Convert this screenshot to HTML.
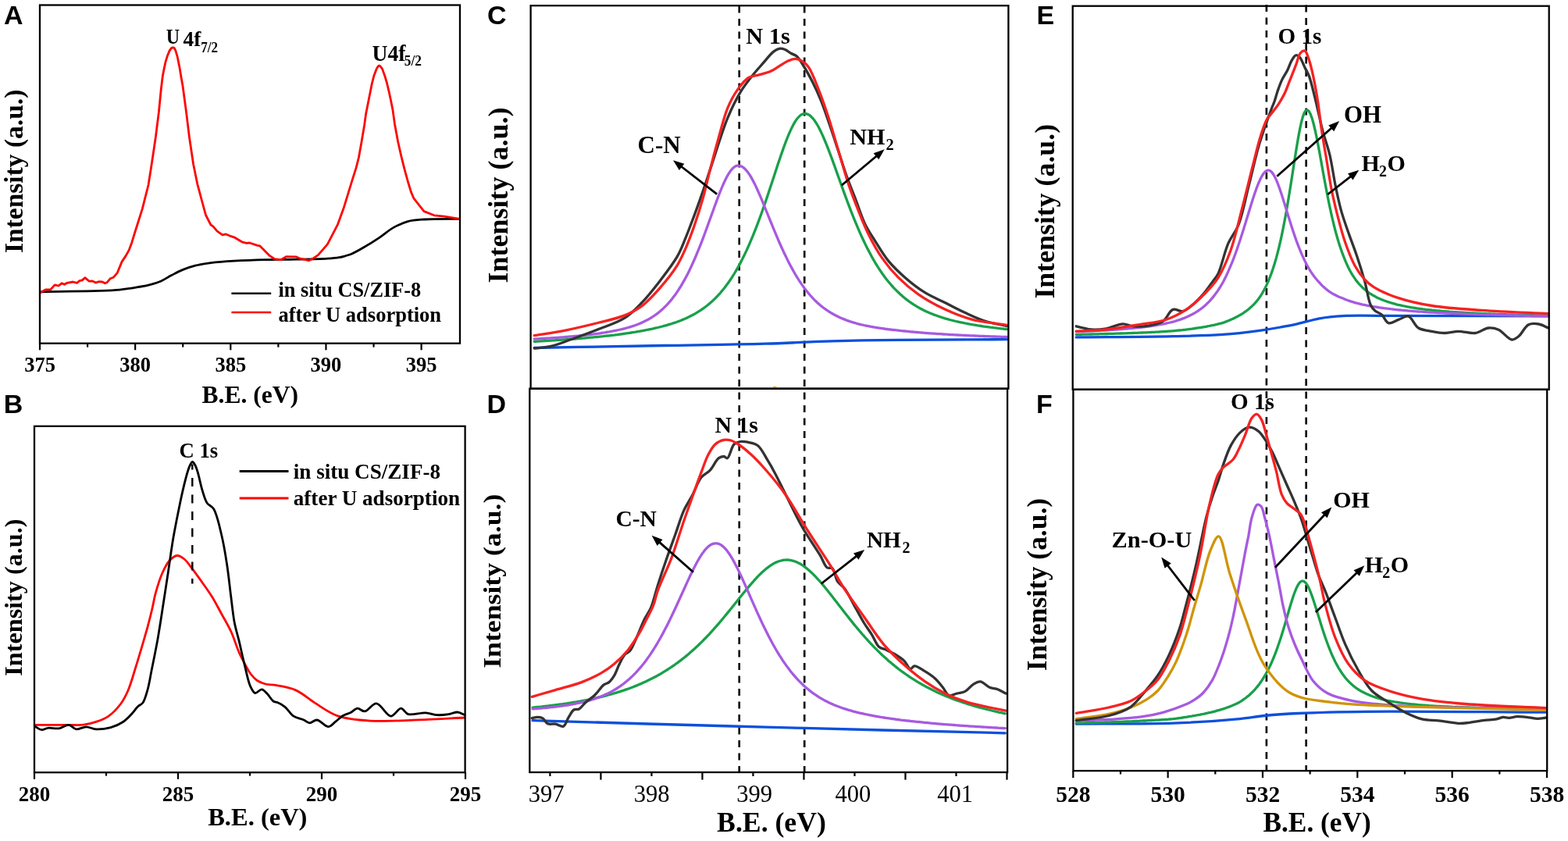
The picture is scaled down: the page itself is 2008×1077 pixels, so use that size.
<!DOCTYPE html>
<html><head><meta charset="utf-8"><title>XPS spectra</title>
<style>html,body{margin:0;padding:0;background:#fff;}svg{display:block;}</style></head>
<body>
<svg width="2008" height="1077" viewBox="0 0 2008 1077">
<rect width="2008" height="1077" fill="#fff"/>
<text x="4.9" y="31" font-family="'Liberation Sans',Arial,sans-serif" font-size="34" font-weight="bold" text-anchor="start" >A</text>
<text x="4.8" y="528.8" font-family="'Liberation Sans',Arial,sans-serif" font-size="34" font-weight="bold" text-anchor="start" >B</text>
<text x="624.1" y="31.2" font-family="'Liberation Sans',Arial,sans-serif" font-size="34" font-weight="bold" text-anchor="start" >C</text>
<text x="623.5" y="528.8" font-family="'Liberation Sans',Arial,sans-serif" font-size="34" font-weight="bold" text-anchor="start" >D</text>
<text x="1327.4" y="30.9" font-family="'Liberation Sans',Arial,sans-serif" font-size="34" font-weight="bold" text-anchor="start" >E</text>
<text x="1327.1" y="529" font-family="'Liberation Sans',Arial,sans-serif" font-size="34" font-weight="bold" text-anchor="start" >F</text>
<path d="M51.7,373.8C85.5,372.9 129.9,373.1 153.0,371.1C165.1,370.0 173.1,368.3 180.5,367.0C185.5,366.1 188.8,365.4 193.0,364.3C197.2,363.2 201.5,362.0 205.7,360.2C210.3,358.2 214.9,355.0 219.6,352.6C224.2,350.2 228.7,347.6 233.6,345.6C238.8,343.5 244.2,341.7 250.0,340.2C256.3,338.6 262.6,337.6 269.9,336.7C278.8,335.5 289.1,334.8 299.8,334.2C312.1,333.5 326.3,333.0 339.6,332.7C352.9,332.4 366.2,332.5 379.5,332.2C392.8,332.0 409.2,331.8 419.3,331.2C425.5,330.8 430.1,330.4 434.3,329.7C437.3,329.2 439.4,328.5 442.0,327.8C444.7,327.0 447.0,326.5 450.0,325.2C454.3,323.4 459.7,320.4 465.0,317.3C471.4,313.6 479.2,308.7 485.8,304.3C492.1,300.1 497.7,294.9 504.0,291.4C509.9,288.1 515.8,285.3 522.2,283.6C528.8,281.8 534.7,281.6 543.0,281.0C555.2,280.1 573.4,280.5 588.6,280.3" fill="none" stroke="#000" stroke-width="2.8" stroke-linejoin="round" stroke-linecap="round"/>
<path d="M51.7,374.8 58.4,371.0 65.0,370.6 70.1,364.8 75.1,366.0 79.2,362.7 82.6,364.3 85.9,362.3 93.5,361.0 98.5,362.3 101.8,359.7 105.2,358.9 108.9,355.6 114.3,360.2 118.5,360.0 122.7,362.0 126.9,360.6 131.1,361.0 134.4,362.8 136.9,361.8 141.1,356.8 145.3,355.2 150.3,349.3 156.1,335.1 161.1,327.6 165.3,320.1 168.7,310.9 172.0,300.0 182.3,267.3 190.0,237.0 194.2,210.3 199.2,176.8 203.4,143.4 206.3,114.0 208.2,98.3 210.0,88.6 211.9,79.7 214.1,72.3 217.1,64.9 219.5,61.6 221.5,60.8 223.3,61.6 224.9,64.9 227.1,72.3 228.6,79.7 230.1,87.1 231.9,98.3 234.0,110.0 238.5,143.4 242.6,176.8 247.6,210.3 252.7,235.3 258.5,257.0 263.5,275.4 270.0,288.0 272.9,289.9 277.9,295.9 284.9,300.8 288.8,299.8 293.8,301.8 299.8,303.8 309.8,309.8 315.7,311.3 319.7,311.0 329.7,314.3 332.7,314.8 339.6,321.8 345.6,327.7 351.6,331.7 359.6,332.7 366.5,328.7 379.5,328.9 384.5,331.2 395.4,333.7 401.4,330.7 407.4,326.7 419.3,312.8 432.3,287.9 440.0,266.8 445.6,248.7 451.1,230.6 456.0,215.2 459.5,201.3 463.0,181.8 466.5,160.9 468.7,145.3 471.2,132.7 473.7,120.2 476.2,107.6 478.7,97.6 482.1,88.4 484.0,85.2 485.6,84.0 487.4,85.2 489.6,88.4 492.9,97.6 495.4,106.0 498.0,116.8 500.5,128.5 503.0,141.1 505.5,159.0 509.7,181.8 513.8,199.9 518.0,216.6 522.2,232.0 526.4,245.9 530.0,254.2 543.0,270.6 556.0,275.8 569.0,277.1 588.6,280.4" fill="none" stroke="#ff0000" stroke-width="2.8" stroke-linejoin="round" stroke-linecap="round"/>
<rect x="51" y="6.5" width="538" height="433.2" fill="none" stroke="#000" stroke-width="2.3"/>
<line x1="51.0" y1="439.7" x2="51.0" y2="448.3" stroke="#000" stroke-width="2.2"/>
<line x1="112.075" y1="439.7" x2="112.075" y2="444.6" stroke="#000" stroke-width="2.2"/>
<line x1="173.15" y1="439.7" x2="173.15" y2="448.3" stroke="#000" stroke-width="2.2"/>
<line x1="234.225" y1="439.7" x2="234.225" y2="444.6" stroke="#000" stroke-width="2.2"/>
<line x1="295.3" y1="439.7" x2="295.3" y2="448.3" stroke="#000" stroke-width="2.2"/>
<line x1="356.375" y1="439.7" x2="356.375" y2="444.6" stroke="#000" stroke-width="2.2"/>
<line x1="417.45" y1="439.7" x2="417.45" y2="448.3" stroke="#000" stroke-width="2.2"/>
<line x1="478.525" y1="439.7" x2="478.525" y2="444.6" stroke="#000" stroke-width="2.2"/>
<line x1="539.6" y1="439.7" x2="539.6" y2="448.3" stroke="#000" stroke-width="2.2"/>
<text x="51.0" y="475.6" font-family="'Liberation Serif','Times New Roman',serif" font-size="26.5" font-weight="bold" text-anchor="middle" >375</text>
<text x="173.2" y="475.6" font-family="'Liberation Serif','Times New Roman',serif" font-size="26.5" font-weight="bold" text-anchor="middle" >380</text>
<text x="295.3" y="475.6" font-family="'Liberation Serif','Times New Roman',serif" font-size="26.5" font-weight="bold" text-anchor="middle" >385</text>
<text x="417.4" y="475.6" font-family="'Liberation Serif','Times New Roman',serif" font-size="26.5" font-weight="bold" text-anchor="middle" >390</text>
<text x="539.6" y="475.6" font-family="'Liberation Serif','Times New Roman',serif" font-size="26.5" font-weight="bold" text-anchor="middle" >395</text>
<text x="320.3" y="516" font-family="'Liberation Serif','Times New Roman',serif" font-size="31.5" font-weight="bold" text-anchor="middle" >B.E. (eV)</text>
<text transform="translate(29.2,324) rotate(-90) scale(1.0,1)" font-family="'Liberation Serif','Times New Roman',serif" font-size="33.5" font-weight="bold">Intensity (a.u.)</text>
<line x1="296.4" y1="375.7" x2="347.2" y2="375.7" stroke="#000" stroke-width="2.4"/>
<line x1="296.4" y1="400" x2="347.2" y2="400" stroke="#ff0000" stroke-width="2.4"/>
<text x="356.5" y="379.6" font-family="'Liberation Serif','Times New Roman',serif" font-size="26.3" font-weight="bold" text-anchor="start" >in situ CS/ZIF-8</text>
<text x="356.5" y="412" font-family="'Liberation Serif','Times New Roman',serif" font-size="26.5" font-weight="bold" text-anchor="start" >after U adsorption</text>
<text x="212.8" y="55.5" font-family="'Liberation Serif','Times New Roman',serif" font-size="28" font-weight="bold" text-anchor="start"  textLength="17.3" lengthAdjust="spacingAndGlyphs">U</text>
<text x="234.6" y="58.8" font-family="'Liberation Serif','Times New Roman',serif" font-size="27.3" font-weight="bold" text-anchor="start" >4f</text>
<text x="257.2" y="66.6" font-family="'Liberation Serif','Times New Roman',serif" font-size="19.5" font-weight="bold" text-anchor="start"  textLength="21.8" lengthAdjust="spacingAndGlyphs">7/2</text>
<text x="476.6" y="77.8" font-family="'Liberation Serif','Times New Roman',serif" font-size="28.8" font-weight="bold" text-anchor="start"  textLength="42.9" lengthAdjust="spacingAndGlyphs">U4f</text>
<text x="517.8" y="84.3" font-family="'Liberation Serif','Times New Roman',serif" font-size="18.5" font-weight="bold" text-anchor="start"  textLength="22.1" lengthAdjust="spacingAndGlyphs">5/2</text>
<path d="M46.2,928.3C59.3,928.3 74.3,928.3 85.4,928.3C93.7,928.3 100.5,929.0 107.1,928.2C112.8,927.5 117.7,926.2 122.9,924.4C128.3,922.6 133.7,920.7 138.7,917.3C144.3,913.4 150.2,907.2 154.5,901.5C158.5,896.1 161.1,890.8 164.0,884.2C167.6,876.0 170.3,865.5 173.4,855.8C176.6,845.6 180.1,833.8 182.9,824.2C185.2,816.2 187.2,809.5 189.2,802.1C191.2,794.7 193.1,787.2 194.8,780.0C196.4,773.3 197.1,767.5 199.0,760.5C201.3,752.2 204.5,741.4 207.9,733.8C210.6,727.8 213.2,722.0 216.8,718.2C219.7,715.1 223.5,711.7 226.8,711.5C229.9,711.3 233.1,713.7 236.0,716.0C239.7,719.0 243.0,724.2 246.6,728.9C250.6,734.1 254.9,740.2 259.0,746.0C263.2,751.9 267.4,757.6 271.4,764.0C275.7,770.9 279.5,778.5 283.6,786.0C287.8,793.7 292.5,801.3 296.2,809.5C300.0,817.9 302.9,828.3 306.2,835.7C308.7,841.3 311.0,845.5 313.5,850.1C315.9,854.6 318.2,859.3 321.0,863.0C323.5,866.3 326.1,869.3 329.3,871.5C332.5,873.6 336.1,875.0 340.0,876.0C344.3,877.1 348.7,876.7 354.0,877.7C361.1,879.0 370.8,880.4 378.8,883.9C387.4,887.7 394.9,895.0 403.6,900.4C412.8,906.1 421.7,913.1 432.6,916.9C444.8,921.1 458.7,922.1 473.9,923.1C492.4,924.3 515.5,922.6 535.9,921.9C555.8,921.2 575.3,920.0 595.0,919.0" fill="none" stroke="#ff0000" stroke-width="2.8" stroke-linejoin="round" stroke-linecap="round"/>
<path d="M44.5,930.0C47.5,931.6 50.5,934.4 53.5,934.7C56.2,934.9 58.3,932.7 61.4,932.3C65.4,931.8 71.1,933.5 75.6,932.8C80.0,932.1 84.4,928.0 88.2,928.4C91.7,928.7 94.2,933.4 97.7,933.9C101.5,934.4 106.1,930.8 110.3,930.8C114.5,930.8 118.2,933.6 122.9,933.9C128.5,934.2 135.9,933.2 141.8,931.6C147.4,930.0 153.0,927.5 157.6,924.5C161.9,921.7 165.4,917.7 168.7,914.2C171.7,911.1 174.0,907.2 176.6,904.7C178.7,902.7 181.1,902.4 182.9,900.0C185.7,896.3 187.4,888.9 189.2,882.6C191.2,875.4 192.2,867.9 194.0,859.0C196.3,847.5 199.4,832.6 201.8,819.4C204.1,806.3 206.0,793.6 208.1,780.0C210.4,765.5 212.7,750.0 215.0,735.0C217.3,719.9 219.4,703.5 221.8,689.6C223.8,677.8 225.9,667.6 228.0,657.0C230.0,646.9 232.1,636.7 234.2,627.6C236.1,619.6 238.2,610.9 240.0,605.0C241.2,601.1 242.2,597.9 243.5,595.5C244.4,593.8 245.4,591.5 246.4,591.5C247.4,591.5 248.6,593.5 249.5,595.0C250.9,597.2 251.8,600.2 253.0,604.0C254.9,610.0 256.8,620.5 259.0,627.6C260.9,633.7 262.3,640.0 265.2,644.2C267.5,647.5 271.0,647.7 273.5,651.6C277.9,658.5 281.0,673.9 283.8,685.5C286.7,697.4 288.6,709.6 290.5,722.0C292.5,734.7 293.8,748.1 295.4,760.8C297.0,773.1 298.2,786.2 300.2,797.0C301.9,805.9 304.1,812.6 306.2,821.2C308.5,831.0 311.0,842.6 313.5,852.6C315.8,861.8 317.7,872.9 320.7,879.1C322.5,882.9 324.3,887.1 326.8,887.6C329.2,888.1 332.6,882.6 335.2,882.8C337.8,883.0 340.2,886.5 342.5,888.8C345.1,891.4 347.4,896.2 350.0,898.0C351.8,899.3 353.6,898.9 355.7,899.8C358.5,901.0 361.9,902.8 365.0,905.3C368.8,908.3 371.9,914.4 376.1,917.2C380.0,919.8 385.4,920.4 389.1,922.0C392.0,923.3 393.9,925.7 396.5,925.8C399.4,925.9 402.4,921.8 405.8,922.0C410.3,922.3 416.4,930.8 420.7,930.6C424.2,930.4 426.9,926.2 430.0,923.9C433.1,921.5 436.0,918.4 439.2,916.5C442.2,914.8 445.5,914.3 448.5,912.8C451.7,911.2 454.6,907.5 457.8,907.2C460.8,907.0 463.7,911.3 467.1,910.9C471.6,910.4 476.9,900.6 482.0,900.9C488.0,901.3 494.8,917.0 500.5,917.2C505.1,917.4 509.5,907.2 513.5,907.2C516.9,907.2 518.7,913.4 522.8,914.6C528.4,916.3 538.4,912.4 545.1,912.8C550.6,913.1 554.9,915.4 559.9,915.7C564.8,916.0 570.2,915.3 574.8,914.6C578.8,914.0 582.4,911.8 585.9,912.0C589.1,912.2 592.0,914.3 595.0,915.5" fill="none" stroke="#000" stroke-width="2.8" stroke-linejoin="round" stroke-linecap="round"/>
<rect x="44" y="545.8" width="551.6" height="443.4000000000001" fill="none" stroke="#000" stroke-width="2.3"/>
<line x1="44.0" y1="989.2" x2="44.0" y2="997.8" stroke="#000" stroke-width="2.2"/>
<line x1="136.0" y1="989.2" x2="136.0" y2="993.6" stroke="#000" stroke-width="2.2"/>
<line x1="228.0" y1="989.2" x2="228.0" y2="997.8" stroke="#000" stroke-width="2.2"/>
<line x1="320.0" y1="989.2" x2="320.0" y2="993.6" stroke="#000" stroke-width="2.2"/>
<line x1="412.0" y1="989.2" x2="412.0" y2="997.8" stroke="#000" stroke-width="2.2"/>
<line x1="503.99999999999994" y1="989.2" x2="503.99999999999994" y2="993.6" stroke="#000" stroke-width="2.2"/>
<line x1="596.0" y1="989.2" x2="596.0" y2="997.8" stroke="#000" stroke-width="2.2"/>
<text x="44.0" y="1025.6" font-family="'Liberation Serif','Times New Roman',serif" font-size="27" font-weight="bold" text-anchor="middle" >280</text>
<text x="228.0" y="1025.6" font-family="'Liberation Serif','Times New Roman',serif" font-size="27" font-weight="bold" text-anchor="middle" >285</text>
<text x="412.0" y="1025.6" font-family="'Liberation Serif','Times New Roman',serif" font-size="27" font-weight="bold" text-anchor="middle" >290</text>
<text x="596.0" y="1025.6" font-family="'Liberation Serif','Times New Roman',serif" font-size="27" font-weight="bold" text-anchor="middle" >295</text>
<text x="329.8" y="1056.5" font-family="'Liberation Serif','Times New Roman',serif" font-size="32.5" font-weight="bold" text-anchor="middle" >B.E. (eV)</text>
<text transform="translate(27.5,865.7) rotate(-90) scale(1.0,1)" font-family="'Liberation Serif','Times New Roman',serif" font-size="32.2" font-weight="bold">Intensity (a.u.)</text>
<line x1="306.7" y1="603.6" x2="369.5" y2="603.6" stroke="#000" stroke-width="3"/>
<line x1="306.7" y1="638" x2="369.5" y2="638" stroke="#ff0000" stroke-width="3"/>
<text x="375.8" y="613" font-family="'Liberation Serif','Times New Roman',serif" font-size="27.1" font-weight="bold" text-anchor="start" >in situ CS/ZIF-8</text>
<text x="375.8" y="647.2" font-family="'Liberation Serif','Times New Roman',serif" font-size="27.1" font-weight="bold" text-anchor="start" >after U adsorption</text>
<text x="229.5" y="586.3" font-family="'Liberation Serif','Times New Roman',serif" font-size="26.7" font-weight="bold" text-anchor="start" >C 1s</text>
<line x1="246.3" y1="594.6" x2="246.3" y2="747.4" stroke="#000" stroke-width="2.4" stroke-dasharray="11 10.5" stroke-dashoffset="4.1"/>
<line x1="946.7" y1="7.6" x2="946.7" y2="989" stroke="#000" stroke-width="2.6" stroke-dasharray="9 7.5"/>
<line x1="1030.2" y1="7.6" x2="1030.2" y2="989" stroke="#000" stroke-width="2.6" stroke-dasharray="9 7.5"/>
<path d="M684.3,445.5C739.5,444.5 798.1,443.4 850.0,442.5C896.0,441.7 941.2,441.3 980.0,440.2C1011.5,439.3 1037.0,437.6 1065.4,436.8C1093.7,436.0 1118.3,435.6 1150.0,435.3C1190.7,434.9 1242.9,434.9 1289.4,434.7" fill="none" stroke="#0c50dc" stroke-width="3.3" stroke-linejoin="round" stroke-linecap="round"/>
<path d="M684.3,437.4 686.3,437.3 688.3,437.1 690.3,437.0 692.3,436.9 694.3,436.8 696.3,436.7 698.3,436.6 700.3,436.4 702.3,436.3 704.3,436.2 706.3,436.1 708.3,435.9 710.3,435.8 712.3,435.7 714.3,435.6 716.3,435.4 718.3,435.3 720.3,435.1 722.3,435.0 724.3,434.9 726.3,434.7 728.3,434.6 730.3,434.4 732.3,434.3 734.3,434.1 736.3,434.0 738.3,433.8 740.3,433.6 742.3,433.5 744.3,433.3 746.3,433.1 748.3,433.0 750.3,432.8 752.3,432.6 754.3,432.4 756.3,432.2 758.3,432.1 760.3,431.9 762.3,431.7 764.3,431.5 766.3,431.3 768.3,431.1 770.3,430.9 772.3,430.7 774.3,430.4 776.3,430.2 778.3,430.0 780.3,429.8 782.3,429.5 784.3,429.3 786.3,429.1 788.3,428.8 790.3,428.6 792.3,428.3 794.3,428.0 796.3,427.8 798.3,427.5 800.3,427.2 802.3,426.9 804.3,426.6 806.3,426.3 808.3,426.0 810.3,425.7 812.3,425.4 814.3,425.1 816.3,424.7 818.3,424.4 820.3,424.0 822.3,423.7 824.3,423.3 826.3,422.9 828.3,422.5 830.3,422.1 832.3,421.7 834.3,421.3 836.3,420.9 838.3,420.4 840.3,419.9 842.3,419.5 844.3,419.0 846.3,418.5 848.3,418.0 850.3,417.4 852.3,416.9 854.3,416.3 856.3,415.7 858.3,415.1 860.3,414.5 862.3,413.8 864.3,413.2 866.3,412.5 868.3,411.7 870.3,411.0 872.3,410.2 874.3,409.4 876.3,408.5 878.3,407.7 880.3,406.7 882.3,405.8 884.3,404.8 886.3,403.8 888.3,402.7 890.3,401.6 892.3,400.4 894.3,399.2 896.3,397.9 898.3,396.6 900.3,395.2 902.3,393.8 904.3,392.2 906.3,390.7 908.3,389.0 910.3,387.3 912.3,385.5 914.3,383.6 916.3,381.7 918.3,379.6 920.3,377.5 922.3,375.3 924.3,372.9 926.3,370.5 928.3,368.0 930.3,365.3 932.3,362.6 934.3,359.7 936.3,356.8 938.3,353.7 940.3,350.5 942.3,347.1 944.3,343.7 946.3,340.1 948.3,336.4 950.3,332.5 952.3,328.5 954.3,324.4 956.3,320.1 958.3,315.7 960.3,311.1 962.3,306.4 964.3,301.6 966.3,296.7 968.3,291.6 970.3,286.4 972.3,281.0 974.3,275.5 976.3,270.0 978.3,264.3 980.3,258.5 982.3,252.6 984.3,246.6 986.3,240.6 988.3,234.5 990.3,228.4 992.3,222.3 994.3,216.2 996.3,210.1 998.3,204.2 1000.3,198.3 1002.3,192.6 1004.3,187.0 1006.3,181.6 1008.3,176.5 1010.3,171.6 1012.3,167.1 1014.3,162.9 1016.3,159.1 1018.3,155.7 1020.3,152.7 1022.3,150.3 1024.3,148.3 1026.3,146.8 1028.3,145.9 1030.3,145.5 1032.3,145.7 1034.3,146.3 1036.3,147.3 1038.3,148.9 1040.3,150.9 1042.3,153.3 1044.3,156.1 1046.3,159.3 1048.3,162.8 1050.3,166.7 1052.3,170.9 1054.3,175.3 1056.3,180.0 1058.3,184.8 1060.3,189.9 1062.3,195.1 1064.3,200.4 1066.3,205.9 1068.3,211.4 1070.3,217.0 1072.3,222.6 1074.3,228.2 1076.3,233.8 1078.3,239.4 1080.3,244.9 1082.3,250.4 1084.3,255.8 1086.3,261.1 1088.3,266.4 1090.3,271.6 1092.3,276.6 1094.3,281.6 1096.3,286.4 1098.3,291.2 1100.3,295.8 1102.3,300.3 1104.3,304.7 1106.3,309.0 1108.3,313.1 1110.3,317.2 1112.3,321.1 1114.3,324.8 1116.3,328.5 1118.3,332.1 1120.3,335.5 1122.3,338.8 1124.3,342.0 1126.3,345.1 1128.3,348.1 1130.3,351.0 1132.3,353.7 1134.3,356.4 1136.3,359.0 1138.3,361.4 1140.3,363.8 1142.3,366.1 1144.3,368.3 1146.3,370.4 1148.3,372.4 1150.3,374.3 1152.3,376.2 1154.3,378.0 1156.3,379.8 1158.3,381.5 1160.3,383.1 1162.3,384.6 1164.3,386.1 1166.3,387.5 1168.3,388.8 1170.3,390.2 1172.3,391.4 1174.3,392.6 1176.3,393.8 1178.3,394.9 1180.3,395.9 1182.3,397.0 1184.3,397.9 1186.3,398.9 1188.3,399.8 1190.3,400.7 1192.3,401.5 1194.3,402.3 1196.3,403.1 1198.3,403.8 1200.3,404.5 1202.3,405.2 1204.3,405.9 1206.3,406.5 1208.3,407.2 1210.3,407.8 1212.3,408.4 1214.3,408.9 1216.3,409.5 1218.3,410.0 1220.3,410.5 1222.3,411.0 1224.3,411.5 1226.3,411.9 1228.3,412.4 1230.3,412.8 1232.3,413.2 1234.3,413.6 1236.3,414.0 1238.3,414.4 1240.3,414.8 1242.3,415.2 1244.3,415.5 1246.3,415.9 1248.3,416.2 1250.3,416.5 1252.3,416.9 1254.3,417.2 1256.3,417.5 1258.3,417.8 1260.3,418.1 1262.3,418.3 1264.3,418.6 1266.3,418.9 1268.3,419.2 1270.3,419.4 1272.3,419.7 1274.3,419.9 1276.3,420.1 1278.3,420.4 1280.3,420.6 1282.3,420.8 1284.3,421.0 1286.3,421.3 1288.3,421.5 1289.4,421.6" fill="none" stroke="#18a04a" stroke-width="3.3" stroke-linejoin="round" stroke-linecap="round"/>
<path d="M684.3,434.2 686.3,434.1 688.3,433.9 690.3,433.8 692.3,433.7 694.3,433.6 696.3,433.5 698.3,433.4 700.3,433.2 702.3,433.1 704.3,433.0 706.3,432.8 708.3,432.7 710.3,432.6 712.3,432.4 714.3,432.3 716.3,432.1 718.3,432.0 720.3,431.8 722.3,431.7 724.3,431.5 726.3,431.4 728.3,431.2 730.3,431.0 732.3,430.9 734.3,430.7 736.3,430.5 738.3,430.3 740.3,430.1 742.3,429.9 744.3,429.7 746.3,429.5 748.3,429.3 750.3,429.1 752.3,428.8 754.3,428.6 756.3,428.4 758.3,428.1 760.3,427.9 762.3,427.6 764.3,427.3 766.3,427.1 768.3,426.8 770.3,426.5 772.3,426.2 774.3,425.9 776.3,425.5 778.3,425.2 780.3,424.9 782.3,424.5 784.3,424.1 786.3,423.7 788.3,423.3 790.3,422.9 792.3,422.5 794.3,422.0 796.3,421.6 798.3,421.1 800.3,420.6 802.3,420.0 804.3,419.5 806.3,418.9 808.3,418.3 810.3,417.6 812.3,417.0 814.3,416.2 816.3,415.5 818.3,414.7 820.3,413.9 822.3,413.0 824.3,412.1 826.3,411.1 828.3,410.1 830.3,409.0 832.3,407.9 834.3,406.6 836.3,405.4 838.3,404.0 840.3,402.6 842.3,401.1 844.3,399.5 846.3,397.8 848.3,396.0 850.3,394.2 852.3,392.2 854.3,390.1 856.3,387.9 858.3,385.6 860.3,383.2 862.3,380.6 864.3,377.9 866.3,375.1 868.3,372.1 870.3,369.0 872.3,365.8 874.3,362.4 876.3,358.9 878.3,355.2 880.3,351.4 882.3,347.4 884.3,343.3 886.3,339.0 888.3,334.5 890.3,330.0 892.3,325.2 894.3,320.4 896.3,315.4 898.3,310.3 900.3,305.1 902.3,299.7 904.3,294.3 906.3,288.8 908.3,283.3 910.3,277.8 912.3,272.2 914.3,266.7 916.3,261.2 918.3,255.8 920.3,250.5 922.3,245.4 924.3,240.5 926.3,235.8 928.3,231.5 930.3,227.5 932.3,223.8 934.3,220.6 936.3,217.8 938.3,215.6 940.3,213.9 942.3,212.7 944.3,212.1 946.3,212.1 948.3,212.5 950.3,213.4 952.3,214.8 954.3,216.6 956.3,218.8 958.3,221.4 960.3,224.4 962.3,227.7 964.3,231.4 966.3,235.3 968.3,239.4 970.3,243.8 972.3,248.3 974.3,252.9 976.3,257.7 978.3,262.6 980.3,267.5 982.3,272.5 984.3,277.4 986.3,282.3 988.3,287.2 990.3,292.1 992.3,296.9 994.3,301.7 996.3,306.4 998.3,311.0 1000.3,315.5 1002.3,319.9 1004.3,324.2 1006.3,328.3 1008.3,332.4 1010.3,336.4 1012.3,340.2 1014.3,343.9 1016.3,347.5 1018.3,351.0 1020.3,354.3 1022.3,357.5 1024.3,360.6 1026.3,363.6 1028.3,366.4 1030.3,369.2 1032.3,371.8 1034.3,374.3 1036.3,376.7 1038.3,379.0 1040.3,381.2 1042.3,383.3 1044.3,385.3 1046.3,387.2 1048.3,389.0 1050.3,390.8 1052.3,392.4 1054.3,394.0 1056.3,395.4 1058.3,396.9 1060.3,398.2 1062.3,399.5 1064.3,400.7 1066.3,401.8 1068.3,403.0 1070.3,404.0 1072.3,405.0 1074.3,406.0 1076.3,406.9 1078.3,407.8 1080.3,408.6 1082.3,409.4 1084.3,410.2 1086.3,410.9 1088.3,411.6 1090.3,412.2 1092.3,412.9 1094.3,413.4 1096.3,414.0 1098.3,414.6 1100.3,415.1 1102.3,415.6 1104.3,416.0 1106.3,416.5 1108.3,416.9 1110.3,417.3 1112.3,417.7 1114.3,418.1 1116.3,418.5 1118.3,418.8 1120.3,419.2 1122.3,419.5 1124.3,419.8 1126.3,420.1 1128.3,420.4 1130.3,420.7 1132.3,421.0 1134.3,421.3 1136.3,421.5 1138.3,421.8 1140.3,422.0 1142.3,422.3 1144.3,422.5 1146.3,422.7 1148.3,422.9 1150.3,423.1 1152.3,423.4 1154.3,423.6 1156.3,423.8 1158.3,424.0 1160.3,424.2 1162.3,424.4 1164.3,424.6 1166.3,424.8 1168.3,425.0 1170.3,425.2 1172.3,425.4 1174.3,425.5 1176.3,425.7 1178.3,425.9 1180.3,426.0 1182.3,426.2 1184.3,426.3 1186.3,426.5 1188.3,426.6 1190.3,426.8 1192.3,426.9 1194.3,427.1 1196.3,427.2 1198.3,427.3 1200.3,427.5 1202.3,427.6 1204.3,427.7 1206.3,427.9 1208.3,428.0 1210.3,428.1 1212.3,428.2 1214.3,428.3 1216.3,428.5 1218.3,428.6 1220.3,428.7 1222.3,428.8 1224.3,428.9 1226.3,429.0 1228.3,429.1 1230.3,429.2 1232.3,429.3 1234.3,429.4 1236.3,429.5 1238.3,429.6 1240.3,429.7 1242.3,429.8 1244.3,429.8 1246.3,429.9 1248.3,430.0 1250.3,430.1 1252.3,430.2 1254.3,430.3 1256.3,430.4 1258.3,430.4 1260.3,430.5 1262.3,430.6 1264.3,430.7 1266.3,430.7 1268.3,430.8 1270.3,430.9 1272.3,431.0 1274.3,431.0 1276.3,431.1 1278.3,431.2 1280.3,431.2 1282.3,431.3 1284.3,431.4 1286.3,431.4 1288.3,431.5 1289.4,431.5" fill="none" stroke="#a75ae0" stroke-width="3.3" stroke-linejoin="round" stroke-linecap="round"/>
<path d="M684.3,446.0C691.4,445.1 698.3,445.1 705.6,443.4C713.8,441.5 722.1,438.0 731.2,434.8C741.8,431.0 754.0,426.6 765.4,422.0C777.0,417.4 790.2,413.5 800.0,407.2C808.8,401.6 815.1,394.6 822.3,387.2C830.0,379.2 837.3,369.8 844.6,360.4C852.2,350.5 861.1,339.2 866.9,329.2C871.8,320.8 874.4,313.3 878.0,304.7C881.8,295.5 885.4,285.6 889.1,275.8C892.9,265.6 896.6,255.2 900.3,244.6C904.1,233.7 907.1,223.9 911.4,211.1C917.2,193.9 924.8,167.9 931.9,150.9C937.4,137.7 943.2,126.3 949.0,116.7C953.6,109.1 958.3,103.3 963.1,97.3C967.5,91.7 971.9,86.9 976.5,81.7C981.1,76.5 986.4,69.3 990.6,66.1C993.3,64.1 995.5,62.7 998.0,62.3C1000.4,61.9 1003.0,62.6 1005.4,63.5C1008.0,64.5 1010.4,66.9 1012.9,68.3C1015.3,69.7 1018.0,70.0 1020.3,72.0C1023.5,74.7 1026.1,79.8 1029.1,84.5C1032.8,90.3 1036.7,97.5 1040.3,104.6C1044.2,112.3 1047.9,120.3 1051.4,129.0C1055.3,138.7 1058.9,149.7 1062.6,160.3C1066.4,171.2 1070.0,182.6 1073.7,193.7C1077.4,204.8 1081.0,216.4 1084.8,227.1C1088.4,237.2 1092.2,246.2 1096.0,256.1C1099.9,266.3 1103.5,278.1 1108.0,287.4C1111.9,295.4 1116.1,301.4 1120.8,308.8C1126.0,317.0 1131.4,326.6 1137.9,334.4C1144.3,342.2 1151.6,349.0 1159.3,355.7C1167.2,362.6 1176.1,369.5 1184.9,374.9C1193.2,380.0 1202.0,383.4 1210.5,387.7C1219.0,392.0 1227.5,396.6 1236.1,400.5C1244.6,404.4 1252.9,408.4 1261.7,411.2C1270.6,414.1 1280.2,415.5 1289.4,417.6" fill="none" stroke="#333333" stroke-width="3.3" stroke-linejoin="round" stroke-linecap="round"/>
<path d="M684.3,429.7C697.1,427.6 709.6,425.9 722.7,423.3C736.6,420.5 752.0,416.9 765.4,413.5C777.6,410.4 789.9,408.0 800.0,403.9C808.5,400.4 815.2,396.9 822.3,391.6C830.2,385.7 837.4,377.6 844.6,369.4C852.3,360.6 861.1,349.7 866.9,340.4C871.7,332.7 874.5,326.1 878.0,318.1C881.9,309.2 885.5,299.3 889.1,289.1C893.0,277.9 896.9,265.4 900.3,253.5C903.6,241.7 906.1,229.8 909.2,217.8C912.4,205.6 915.5,193.5 919.1,180.8C923.0,167.0 926.9,150.0 931.9,138.1C935.7,128.9 939.9,121.3 944.7,114.6C948.9,108.7 953.5,102.6 958.6,99.5C962.8,97.0 967.4,97.1 972.0,95.8C976.8,94.4 982.4,93.3 986.9,91.3C991.0,89.5 994.3,86.8 998.0,84.6C1001.7,82.4 1005.5,79.6 1009.2,78.0C1012.4,76.6 1015.7,75.2 1018.8,75.3C1021.8,75.4 1025.0,77.0 1027.7,78.7C1030.6,80.5 1032.9,82.4 1035.5,86.0C1039.9,92.1 1044.2,104.4 1048.3,114.6C1052.8,125.9 1057.0,138.2 1061.1,150.8C1065.5,164.4 1069.6,179.3 1073.9,193.5C1078.2,207.7 1082.2,222.8 1086.7,236.2C1090.8,248.3 1095.1,259.4 1099.5,270.4C1103.6,280.7 1107.4,290.4 1112.3,300.2C1117.3,310.3 1122.9,320.8 1129.4,330.1C1135.8,339.3 1142.9,347.9 1150.7,355.7C1158.5,363.5 1166.8,370.6 1176.3,377.1C1186.6,384.2 1198.9,390.9 1210.5,396.3C1221.7,401.5 1232.3,405.8 1244.6,409.1C1258.3,412.7 1274.5,413.9 1289.4,416.3" fill="none" stroke="#f52222" stroke-width="3.3" stroke-linejoin="round" stroke-linecap="round"/>
<path d="M682.1,922.7C731.4,924.1 780.5,925.6 830.0,927.0C879.8,928.4 930.0,929.8 980.0,931.1C1030.0,932.4 1079.4,933.7 1130.0,935.0C1181.8,936.3 1234.9,937.5 1287.3,938.8" fill="none" stroke="#0c50dc" stroke-width="3.3" stroke-linejoin="round" stroke-linecap="round"/>
<path d="M682.1,906.1 684.1,905.9 686.1,905.7 688.1,905.5 690.1,905.3 692.1,905.1 694.1,904.9 696.1,904.6 698.1,904.4 700.1,904.2 702.1,904.0 704.1,903.7 706.1,903.5 708.1,903.2 710.1,903.0 712.1,902.7 714.1,902.5 716.1,902.2 718.1,901.9 720.1,901.7 722.1,901.4 724.1,901.1 726.1,900.8 728.1,900.5 730.1,900.2 732.1,899.8 734.1,899.5 736.1,899.2 738.1,898.9 740.1,898.5 742.1,898.2 744.1,897.8 746.1,897.4 748.1,897.0 750.1,896.7 752.1,896.3 754.1,895.9 756.1,895.4 758.1,895.0 760.1,894.6 762.1,894.2 764.1,893.7 766.1,893.2 768.1,892.8 770.1,892.3 772.1,891.8 774.1,891.3 776.1,890.8 778.1,890.2 780.1,889.7 782.1,889.2 784.1,888.6 786.1,888.0 788.1,887.4 790.1,886.8 792.1,886.2 794.1,885.6 796.1,884.9 798.1,884.3 800.1,883.6 802.1,882.9 804.1,882.2 806.1,881.5 808.1,880.7 810.1,880.0 812.1,879.2 814.1,878.4 816.1,877.6 818.1,876.7 820.1,875.9 822.1,875.0 824.1,874.1 826.1,873.2 828.1,872.3 830.1,871.3 832.1,870.3 834.1,869.3 836.1,868.3 838.1,867.3 840.1,866.2 842.1,865.1 844.1,864.0 846.1,862.8 848.1,861.6 850.1,860.4 852.1,859.2 854.1,858.0 856.1,856.7 858.1,855.4 860.1,854.0 862.1,852.7 864.1,851.3 866.1,849.8 868.1,848.4 870.1,846.9 872.1,845.4 874.1,843.8 876.1,842.2 878.1,840.6 880.1,839.0 882.1,837.3 884.1,835.6 886.1,833.8 888.1,832.0 890.1,830.2 892.1,828.3 894.1,826.5 896.1,824.5 898.1,822.6 900.1,820.6 902.1,818.5 904.1,816.5 906.1,814.4 908.1,812.3 910.1,810.1 912.1,807.9 914.1,805.7 916.1,803.4 918.1,801.1 920.1,798.8 922.1,796.5 924.1,794.1 926.1,791.7 928.1,789.3 930.1,786.9 932.1,784.4 934.1,782.0 936.1,779.5 938.1,777.0 940.1,774.5 942.1,772.0 944.1,769.5 946.1,767.0 948.1,764.5 950.1,762.0 952.1,759.5 954.1,757.1 956.1,754.6 958.1,752.2 960.1,749.9 962.1,747.6 964.1,745.3 966.1,743.0 968.1,740.9 970.1,738.7 972.1,736.7 974.1,734.7 976.1,732.8 978.1,731.0 980.1,729.3 982.1,727.6 984.1,726.1 986.1,724.7 988.1,723.3 990.1,722.1 992.1,721.1 994.1,720.1 996.1,719.3 998.1,718.5 1000.1,718.0 1002.1,717.5 1004.1,717.2 1006.1,717.1 1008.1,717.0 1010.1,717.2 1012.1,717.4 1014.1,717.8 1016.1,718.3 1018.1,719.0 1020.1,719.8 1022.1,720.7 1024.1,721.7 1026.1,722.9 1028.1,724.2 1030.1,725.6 1032.1,727.1 1034.1,728.7 1036.1,730.4 1038.1,732.2 1040.1,734.1 1042.1,736.1 1044.1,738.2 1046.1,740.3 1048.1,742.5 1050.1,744.7 1052.1,747.0 1054.1,749.4 1056.1,751.8 1058.1,754.3 1060.1,756.7 1062.1,759.2 1064.1,761.8 1066.1,764.3 1068.1,766.9 1070.1,769.5 1072.1,772.1 1074.1,774.7 1076.1,777.2 1078.1,779.8 1080.1,782.4 1082.1,785.0 1084.1,787.5 1086.1,790.1 1088.1,792.6 1090.1,795.1 1092.1,797.6 1094.1,800.1 1096.1,802.5 1098.1,804.9 1100.1,807.3 1102.1,809.6 1104.1,812.0 1106.1,814.2 1108.1,816.5 1110.1,818.7 1112.1,820.9 1114.1,823.1 1116.1,825.2 1118.1,827.3 1120.1,829.4 1122.1,831.4 1124.1,833.4 1126.1,835.3 1128.1,837.3 1130.1,839.2 1132.1,841.0 1134.1,842.8 1136.1,844.6 1138.1,846.4 1140.1,848.1 1142.1,849.8 1144.1,851.4 1146.1,853.0 1148.1,854.6 1150.1,856.2 1152.1,857.7 1154.1,859.2 1156.1,860.7 1158.1,862.1 1160.1,863.5 1162.1,864.9 1164.1,866.3 1166.1,867.6 1168.1,868.9 1170.1,870.2 1172.1,871.4 1174.1,872.7 1176.1,873.9 1178.1,875.0 1180.1,876.2 1182.1,877.3 1184.1,878.4 1186.1,879.5 1188.1,880.6 1190.1,881.6 1192.1,882.6 1194.1,883.6 1196.1,884.6 1198.1,885.5 1200.1,886.5 1202.1,887.4 1204.1,888.3 1206.1,889.2 1208.1,890.0 1210.1,890.9 1212.1,891.7 1214.1,892.5 1216.1,893.3 1218.1,894.1 1220.1,894.9 1222.1,895.6 1224.1,896.4 1226.1,897.1 1228.1,897.8 1230.1,898.5 1232.1,899.2 1234.1,899.9 1236.1,900.5 1238.1,901.2 1240.1,901.8 1242.1,902.4 1244.1,903.0 1246.1,903.6 1248.1,904.2 1250.1,904.8 1252.1,905.3 1254.1,905.9 1256.1,906.4 1258.1,907.0 1260.1,907.5 1262.1,908.0 1264.1,908.5 1266.1,909.0 1268.1,909.5 1270.1,910.0 1272.1,910.5 1274.1,910.9 1276.1,911.4 1278.1,911.8 1280.1,912.3 1282.1,912.7 1284.1,913.1 1286.1,913.6 1287.3,913.8" fill="none" stroke="#18a04a" stroke-width="3.3" stroke-linejoin="round" stroke-linecap="round"/>
<path d="M682.1,907.8 684.1,907.6 686.1,907.5 688.1,907.3 690.1,907.2 692.1,907.0 694.1,906.8 696.1,906.7 698.1,906.5 700.1,906.3 702.1,906.1 704.1,905.9 706.1,905.7 708.1,905.5 710.1,905.2 712.1,905.0 714.1,904.7 716.1,904.5 718.1,904.2 720.1,904.0 722.1,903.7 724.1,903.4 726.1,903.1 728.1,902.8 730.1,902.4 732.1,902.1 734.1,901.7 736.1,901.3 738.1,900.9 740.1,900.5 742.1,900.1 744.1,899.7 746.1,899.2 748.1,898.7 750.1,898.2 752.1,897.7 754.1,897.1 756.1,896.6 758.1,896.0 760.1,895.3 762.1,894.7 764.1,894.0 766.1,893.3 768.1,892.5 770.1,891.7 772.1,890.9 774.1,890.0 776.1,889.1 778.1,888.2 780.1,887.2 782.1,886.2 784.1,885.1 786.1,883.9 788.1,882.8 790.1,881.5 792.1,880.2 794.1,878.9 796.1,877.4 798.1,876.0 800.1,874.4 802.1,872.8 804.1,871.1 806.1,869.4 808.1,867.5 810.1,865.6 812.1,863.6 814.1,861.6 816.1,859.4 818.1,857.2 820.1,854.9 822.1,852.5 824.1,850.0 826.1,847.4 828.1,844.7 830.1,841.9 832.1,839.1 834.1,836.1 836.1,833.0 838.1,829.9 840.1,826.6 842.1,823.3 844.1,819.8 846.1,816.3 848.1,812.6 850.1,808.9 852.1,805.1 854.1,801.2 856.1,797.2 858.1,793.1 860.1,789.0 862.1,784.8 864.1,780.5 866.1,776.2 868.1,771.8 870.1,767.4 872.1,763.0 874.1,758.6 876.1,754.2 878.1,749.8 880.1,745.4 882.1,741.1 884.1,736.8 886.1,732.7 888.1,728.6 890.1,724.7 892.1,720.9 894.1,717.3 896.1,713.9 898.1,710.8 900.1,707.9 902.1,705.2 904.1,702.9 906.1,700.8 908.1,699.1 910.1,697.7 912.1,696.7 914.1,696.1 916.1,695.8 918.1,695.9 920.1,696.3 922.1,697.2 924.1,698.4 926.1,700.0 928.1,701.9 930.1,704.1 932.1,706.7 934.1,709.5 936.1,712.6 938.1,716.0 940.1,719.6 942.1,723.4 944.1,727.3 946.1,731.4 948.1,735.6 950.1,740.0 952.1,744.4 954.1,748.9 956.1,753.4 958.1,757.9 960.1,762.5 962.1,767.1 964.1,771.6 966.1,776.2 968.1,780.7 970.1,785.1 972.1,789.5 974.1,793.8 976.1,798.1 978.1,802.2 980.1,806.3 982.1,810.3 984.1,814.3 986.1,818.1 988.1,821.8 990.1,825.5 992.1,829.0 994.1,832.5 996.1,835.8 998.1,839.1 1000.1,842.2 1002.1,845.3 1004.1,848.3 1006.1,851.1 1008.1,853.9 1010.1,856.6 1012.1,859.2 1014.1,861.7 1016.1,864.1 1018.1,866.4 1020.1,868.7 1022.1,870.8 1024.1,872.9 1026.1,874.9 1028.1,876.8 1030.1,878.7 1032.1,880.4 1034.1,882.1 1036.1,883.8 1038.1,885.4 1040.1,886.9 1042.1,888.3 1044.1,889.7 1046.1,891.0 1048.1,892.3 1050.1,893.6 1052.1,894.7 1054.1,895.9 1056.1,897.0 1058.1,898.0 1060.1,899.0 1062.1,900.0 1064.1,900.9 1066.1,901.8 1068.1,902.7 1070.1,903.5 1072.1,904.3 1074.1,905.0 1076.1,905.8 1078.1,906.5 1080.1,907.2 1082.1,907.8 1084.1,908.4 1086.1,909.1 1088.1,909.7 1090.1,910.2 1092.1,910.8 1094.1,911.3 1096.1,911.8 1098.1,912.3 1100.1,912.8 1102.1,913.3 1104.1,913.7 1106.1,914.2 1108.1,914.6 1110.1,915.0 1112.1,915.4 1114.1,915.8 1116.1,916.2 1118.1,916.6 1120.1,917.0 1122.1,917.3 1124.1,917.7 1126.1,918.0 1128.1,918.4 1130.1,918.7 1132.1,919.0 1134.1,919.3 1136.1,919.6 1138.1,919.9 1140.1,920.2 1142.1,920.5 1144.1,920.7 1146.1,921.0 1148.1,921.3 1150.1,921.5 1152.1,921.8 1154.1,922.1 1156.1,922.3 1158.1,922.5 1160.1,922.8 1162.1,923.0 1164.1,923.2 1166.1,923.5 1168.1,923.7 1170.1,923.9 1172.1,924.1 1174.1,924.3 1176.1,924.5 1178.1,924.7 1180.1,924.9 1182.1,925.1 1184.1,925.3 1186.1,925.5 1188.1,925.7 1190.1,925.9 1192.1,926.1 1194.1,926.3 1196.1,926.4 1198.1,926.6 1200.1,926.8 1202.1,927.0 1204.1,927.1 1206.1,927.3 1208.1,927.5 1210.1,927.6 1212.1,927.8 1214.1,927.9 1216.1,928.1 1218.1,928.2 1220.1,928.4 1222.1,928.5 1224.1,928.7 1226.1,928.8 1228.1,929.0 1230.1,929.1 1232.1,929.3 1234.1,929.4 1236.1,929.6 1238.1,929.7 1240.1,929.8 1242.1,930.0 1244.1,930.1 1246.1,930.2 1248.1,930.4 1250.1,930.5 1252.1,930.6 1254.1,930.7 1256.1,930.9 1258.1,931.0 1260.1,931.1 1262.1,931.2 1264.1,931.4 1266.1,931.5 1268.1,931.6 1270.1,931.7 1272.1,931.8 1274.1,931.9 1276.1,932.0 1278.1,932.2 1280.1,932.3 1282.1,932.4 1284.1,932.5 1286.1,932.6 1287.3,932.7" fill="none" stroke="#a75ae0" stroke-width="3.3" stroke-linejoin="round" stroke-linecap="round"/>
<path d="M681.3,919.6C683.5,919.2 685.8,918.4 688.0,918.4C690.2,918.4 692.6,918.5 694.7,919.6C697.2,920.9 698.6,925.4 701.4,926.7C704.2,928.0 708.1,926.6 711.4,927.1C714.8,927.7 718.8,931.2 721.5,930.1C724.5,928.9 725.8,922.3 728.1,918.7C730.3,915.3 732.2,910.7 734.8,909.0C736.8,907.7 739.3,909.0 741.5,907.9C744.4,906.4 746.8,902.3 749.9,899.5C753.4,896.4 757.9,893.9 761.6,890.3C765.7,886.4 769.7,879.7 773.3,876.9C775.6,875.1 777.9,875.3 780.0,873.6C782.5,871.6 784.6,868.5 786.6,865.2C789.1,861.0 790.9,854.8 793.3,850.2C795.4,846.0 797.4,841.4 800.0,838.5C802.0,836.2 804.6,836.0 806.7,833.5C809.8,829.8 812.3,822.9 815.1,816.8C818.4,809.7 821.7,800.3 825.1,793.4C827.9,787.8 830.9,784.4 833.5,778.4C836.9,770.5 839.2,759.4 842.4,749.4C845.8,738.6 849.7,726.9 853.5,716.0C857.2,705.4 861.0,695.2 864.7,684.8C868.4,674.4 871.7,662.7 875.8,653.6C879.2,646.0 883.4,640.4 887.0,633.5C890.8,626.3 893.7,616.7 898.1,611.3C901.4,607.2 905.7,606.0 909.2,602.3C913.2,598.0 916.7,589.4 920.4,586.7C922.6,585.1 925.1,584.4 927.1,584.5C928.7,584.6 930.0,587.2 931.5,586.7C934.4,585.7 936.5,572.4 940.0,569.0C942.4,566.7 945.2,566.0 948.0,565.5C951.0,565.0 954.1,565.5 957.5,566.2C961.5,567.0 966.5,567.6 970.3,570.5C975.3,574.3 979.3,583.4 983.2,589.7C986.8,595.5 989.5,600.4 992.8,606.7C996.9,614.3 1001.3,623.8 1005.6,632.3C1009.9,640.8 1014.1,649.7 1018.4,657.9C1022.4,665.6 1025.6,672.1 1030.3,680.0C1036.0,689.6 1045.1,702.5 1050.3,711.2C1054.0,717.2 1055.8,724.5 1059.2,726.8C1061.3,728.2 1064.0,726.4 1065.9,727.9C1069.0,730.4 1069.7,740.1 1072.6,744.6C1075.1,748.3 1078.6,749.7 1081.5,753.5C1085.4,758.7 1089.1,766.6 1093.0,773.6C1097.2,781.1 1101.8,790.1 1106.0,797.0C1109.5,802.8 1113.1,807.4 1116.4,812.6C1119.6,817.8 1121.9,825.0 1125.5,828.2C1128.2,830.6 1131.5,830.7 1134.6,832.1C1138.0,833.7 1141.4,835.2 1145.0,837.3C1149.2,839.8 1154.4,842.9 1158.0,846.4C1161.2,849.5 1163.3,856.4 1165.8,856.8C1167.6,857.1 1168.8,853.1 1171.0,852.9C1174.3,852.6 1179.8,856.9 1184.0,859.4C1188.4,862.0 1193.1,865.0 1197.0,868.5C1200.9,872.0 1204.3,876.4 1207.4,880.2C1210.3,883.7 1212.0,889.5 1215.2,890.6C1218.1,891.6 1222.1,888.9 1225.6,888.0C1229.1,887.1 1232.7,887.1 1236.0,885.4C1239.7,883.5 1242.9,878.4 1246.4,876.3C1249.4,874.5 1252.4,872.6 1255.5,872.9C1259.2,873.3 1263.3,878.5 1267.2,880.2C1270.7,881.7 1274.2,881.5 1277.6,882.8C1281.1,884.1 1284.5,886.3 1288.0,888.0" fill="none" stroke="#333333" stroke-width="3.3" stroke-linejoin="round" stroke-linecap="round"/>
<path d="M681.3,892.3C691.3,889.4 701.1,886.6 711.4,883.6C722.3,880.4 734.7,877.5 744.9,873.6C754.0,870.1 762.6,866.1 769.9,861.9C776.2,858.3 781.2,854.7 786.6,850.2C792.4,845.3 798.1,839.9 803.4,833.5C809.4,826.2 815.7,815.9 820.1,808.4C823.4,802.7 825.3,798.3 828.0,793.0C830.9,787.2 834.4,781.2 836.8,775.0C839.2,768.9 839.7,763.6 842.4,756.1C846.5,744.7 854.7,728.4 860.2,713.8C865.9,698.7 870.7,681.8 875.8,667.0C880.4,653.7 885.2,640.4 889.2,629.1C892.4,620.0 895.1,612.6 898.1,604.6C901.0,597.0 903.7,588.6 907.0,582.3C909.7,577.1 912.3,572.1 915.9,568.9C919.1,566.1 923.5,564.0 927.1,563.3C930.2,562.7 933.1,563.2 936.0,564.0C939.0,564.9 941.4,566.4 944.7,568.5C949.6,571.6 956.2,576.9 961.8,582.0C968.0,587.6 973.6,593.7 980.0,601.0C988.0,610.1 997.2,621.0 1005.6,633.0C1015.4,646.9 1024.9,664.6 1034.7,680.0C1044.3,695.1 1055.5,711.5 1063.7,724.6C1070.0,734.8 1073.7,742.3 1080.0,752.0C1087.5,763.6 1097.3,776.9 1106.0,789.2C1114.6,801.4 1122.9,814.8 1132.0,825.6C1140.3,835.4 1149.1,843.6 1158.0,851.6C1166.5,859.2 1175.1,866.2 1184.0,872.4C1192.5,878.3 1201.2,883.6 1210.0,888.0C1218.5,892.2 1227.2,895.6 1236.0,898.4C1244.6,901.2 1253.3,902.9 1262.0,904.9C1270.6,906.8 1279.3,908.4 1288.0,910.1" fill="none" stroke="#f52222" stroke-width="3.3" stroke-linejoin="round" stroke-linecap="round"/>
<rect x="679.6" y="7.2" width="611.8000000000001" height="490.5" fill="none" stroke="#000" stroke-width="2.3"/>
<path d="M987.3,497.6 C989,495.6 991,494.6 993,494.9 C995.5,495.3 997.8,496.3 999.6,497.4 Z" fill="#d9a010"/>
<rect x="678.3" y="497.7" width="611.8" height="491.3" fill="none" stroke="#000" stroke-width="2.3"/>
<text transform="translate(650.3,362.6) rotate(-90) scale(1.0,1)" font-family="'Liberation Serif','Times New Roman',serif" font-size="36" font-weight="bold">Intensity (a.u.)</text>
<text transform="translate(641.4,855.8) rotate(-90) scale(1.13,1)" font-family="'Liberation Serif','Times New Roman',serif" font-size="31.6" font-weight="bold">Intensity (a.u.)</text>
<line x1="704.4" y1="989" x2="704.4" y2="994" stroke="#000" stroke-width="2.2"/>
<line x1="769.41" y1="989" x2="769.41" y2="998.6" stroke="#000" stroke-width="2.2"/>
<line x1="834.42" y1="989" x2="834.42" y2="994" stroke="#000" stroke-width="2.2"/>
<line x1="899.4300000000001" y1="989" x2="899.4300000000001" y2="998.6" stroke="#000" stroke-width="2.2"/>
<line x1="964.44" y1="989" x2="964.44" y2="994" stroke="#000" stroke-width="2.2"/>
<line x1="1029.45" y1="989" x2="1029.45" y2="998.6" stroke="#000" stroke-width="2.2"/>
<line x1="1094.46" y1="989" x2="1094.46" y2="994" stroke="#000" stroke-width="2.2"/>
<line x1="1159.47" y1="989" x2="1159.47" y2="998.6" stroke="#000" stroke-width="2.2"/>
<line x1="1224.48" y1="989" x2="1224.48" y2="994" stroke="#000" stroke-width="2.2"/>
<line x1="1289.49" y1="989" x2="1289.49" y2="998.6" stroke="#000" stroke-width="2.2"/>
<text x="699.5" y="1026.6" font-family="'Liberation Serif','Times New Roman',serif" font-size="30.5" font-weight="normal" text-anchor="middle" >397</text>
<text x="834.5" y="1026.6" font-family="'Liberation Serif','Times New Roman',serif" font-size="30.5" font-weight="normal" text-anchor="middle" >398</text>
<text x="966" y="1026.6" font-family="'Liberation Serif','Times New Roman',serif" font-size="30.5" font-weight="normal" text-anchor="middle" >399</text>
<text x="1092.3" y="1026.6" font-family="'Liberation Serif','Times New Roman',serif" font-size="30.5" font-weight="normal" text-anchor="middle" >400</text>
<text x="1223" y="1026.6" font-family="'Liberation Serif','Times New Roman',serif" font-size="30.5" font-weight="normal" text-anchor="middle" >401</text>
<text x="988" y="1064.8" font-family="'Liberation Serif','Times New Roman',serif" font-size="35.7" font-weight="bold" text-anchor="middle" >B.E. (eV)</text>
<text x="955.3" y="55.5" font-family="'Liberation Serif','Times New Roman',serif" font-size="30.3" font-weight="bold" text-anchor="start" >N 1s</text>
<text x="816.6" y="195.7" font-family="'Liberation Serif','Times New Roman',serif" font-size="31" font-weight="bold" text-anchor="start" >C-N</text>
<text x="1088.2" y="184.8" font-family="'Liberation Serif','Times New Roman',serif" font-size="30.2" font-weight="bold" text-anchor="start" >NH</text>
<text x="1134.6" y="192.2" font-family="'Liberation Serif','Times New Roman',serif" font-size="20.5" font-weight="bold" text-anchor="start" >2</text>
<line x1="918.1" y1="248.6" x2="871.5" y2="212.5" stroke="#000" stroke-width="2.8"/>
<polygon points="862.0,205.2 876.3,209.7 869.9,217.9" fill="#000"/>
<line x1="1077.9" y1="237.3" x2="1123.5" y2="199.0" stroke="#000" stroke-width="2.8"/>
<polygon points="1132.7,191.3 1125.3,204.3 1118.6,196.3" fill="#000"/>
<text x="915.4" y="553.9" font-family="'Liberation Serif','Times New Roman',serif" font-size="29.8" font-weight="bold" text-anchor="start" >N 1s</text>
<text x="788.4" y="673.9" font-family="'Liberation Serif','Times New Roman',serif" font-size="29.5" font-weight="bold" text-anchor="start" >C-N</text>
<text x="1110" y="700.6" font-family="'Liberation Serif','Times New Roman',serif" font-size="29.2" font-weight="bold" text-anchor="start" >NH</text>
<text x="1155.5" y="707.5" font-family="'Liberation Serif','Times New Roman',serif" font-size="20" font-weight="bold" text-anchor="start" >2</text>
<line x1="887.9" y1="732.7" x2="843.6" y2="693.6" stroke="#000" stroke-width="2.8"/>
<polygon points="834.6,685.7 848.5,691.1 841.7,698.9" fill="#000"/>
<line x1="1051.7" y1="747.5" x2="1097.8" y2="711.4" stroke="#000" stroke-width="2.8"/>
<polygon points="1107.2,704.0 1099.4,716.7 1093.0,708.5" fill="#000"/>
<line x1="1621.9" y1="6" x2="1621.9" y2="987" stroke="#000" stroke-width="2.6" stroke-dasharray="9 7.5"/>
<line x1="1672.7" y1="6.6" x2="1672.7" y2="987" stroke="#000" stroke-width="2.6" stroke-dasharray="9 7.5"/>
<path d="M1378.3,431.9C1419.6,431.5 1467.6,431.4 1502.1,430.6C1526.9,430.0 1546.4,429.8 1566.1,428.4C1583.0,427.2 1599.6,425.1 1613.1,423.3C1623.3,421.9 1631.7,420.5 1640.0,419.0C1647.2,417.7 1652.7,416.8 1660.0,415.2C1668.9,413.2 1679.7,409.6 1689.7,407.8C1699.5,406.1 1708.5,405.2 1719.4,404.6C1732.7,403.8 1743.5,404.3 1764.0,404.3C1809.4,404.2 1910.1,404.6 1983.1,404.8" fill="none" stroke="#0c50dc" stroke-width="3.3" stroke-linejoin="round" stroke-linecap="round"/>
<path d="M1378.3,428.4 1380.3,428.3 1382.3,428.3 1384.3,428.3 1386.3,428.2 1388.3,428.2 1390.3,428.1 1392.3,428.1 1394.3,428.1 1396.3,428.0 1398.3,428.0 1400.3,427.9 1402.3,427.9 1404.3,427.8 1406.3,427.8 1408.3,427.7 1410.3,427.7 1412.3,427.6 1414.3,427.6 1416.3,427.5 1418.3,427.5 1420.3,427.4 1422.3,427.4 1424.3,427.3 1426.3,427.3 1428.3,427.2 1430.3,427.1 1432.3,427.1 1434.3,427.0 1436.3,427.0 1438.3,426.9 1440.3,426.8 1442.3,426.8 1444.3,426.7 1446.3,426.6 1448.3,426.6 1450.3,426.5 1452.3,426.4 1454.3,426.3 1456.3,426.3 1458.3,426.2 1460.3,426.1 1462.3,426.0 1464.3,425.9 1466.3,425.8 1468.3,425.8 1470.3,425.7 1472.3,425.6 1474.3,425.5 1476.3,425.4 1478.3,425.3 1480.3,425.2 1482.3,425.1 1484.3,425.0 1486.3,424.8 1488.3,424.7 1490.3,424.6 1492.3,424.5 1494.3,424.4 1496.3,424.2 1498.3,424.1 1500.3,423.9 1502.3,423.8 1504.3,423.6 1506.3,423.4 1508.3,423.2 1510.3,423.0 1512.3,422.8 1514.3,422.6 1516.3,422.3 1518.3,422.1 1520.3,421.8 1522.3,421.6 1524.3,421.3 1526.3,421.1 1528.3,420.8 1530.3,420.5 1532.3,420.2 1534.3,419.9 1536.3,419.6 1538.3,419.3 1540.3,419.0 1542.3,418.6 1544.3,418.3 1546.3,417.9 1548.3,417.5 1550.3,417.1 1552.3,416.7 1554.3,416.3 1556.3,415.9 1558.3,415.4 1560.3,414.9 1562.3,414.4 1564.3,413.9 1566.3,413.3 1568.3,412.6 1570.3,411.8 1572.3,411.0 1574.3,410.2 1576.3,409.3 1578.3,408.5 1580.3,407.5 1582.3,406.5 1584.3,405.5 1586.3,404.4 1588.3,403.3 1590.3,402.1 1592.3,400.8 1594.3,399.4 1596.3,398.0 1598.3,396.5 1600.3,394.8 1602.3,393.0 1604.3,391.1 1606.3,389.1 1608.3,386.9 1610.3,384.5 1612.3,381.9 1614.3,379.0 1616.3,375.8 1618.3,372.3 1620.3,368.5 1622.3,364.4 1624.3,359.9 1626.3,355.0 1628.3,349.6 1630.3,343.8 1632.3,337.4 1634.3,330.6 1636.3,323.1 1638.3,315.0 1640.3,306.3 1642.3,296.9 1644.3,286.9 1646.3,276.2 1648.3,264.9 1650.3,253.0 1652.3,240.7 1654.3,228.0 1656.3,215.1 1658.3,202.3 1660.3,189.8 1662.3,177.8 1664.3,166.9 1666.3,157.5 1668.3,149.9 1670.3,144.4 1672.3,141.4 1674.3,140.9 1676.3,142.6 1678.3,146.3 1680.3,151.9 1682.3,159.0 1684.3,167.5 1686.3,177.0 1688.3,187.2 1690.3,197.9 1692.3,209.1 1694.3,220.2 1696.3,231.2 1698.3,241.9 1700.3,252.2 1702.3,262.0 1704.3,271.4 1706.3,280.2 1708.3,288.5 1710.3,296.3 1712.3,303.5 1714.3,310.3 1716.3,316.5 1718.3,322.2 1720.3,327.6 1722.3,332.7 1724.3,337.4 1726.3,341.7 1728.3,345.7 1730.3,349.3 1732.3,352.7 1734.3,355.7 1736.3,358.6 1738.3,361.1 1740.3,363.5 1742.3,365.7 1744.3,367.7 1746.3,369.6 1748.3,371.3 1750.3,372.9 1752.3,374.4 1754.3,375.8 1756.3,377.0 1758.3,378.2 1760.3,379.3 1762.3,380.4 1764.3,381.4 1766.3,382.3 1768.3,383.2 1770.3,384.0 1772.3,384.8 1774.3,385.5 1776.3,386.2 1778.3,386.9 1780.3,387.5 1782.3,388.1 1784.3,388.7 1786.3,389.2 1788.3,389.8 1790.3,390.3 1792.3,390.7 1794.3,391.2 1796.3,391.6 1798.3,392.0 1800.3,392.4 1802.3,392.8 1804.3,393.2 1806.3,393.5 1808.3,393.9 1810.3,394.2 1812.3,394.5 1814.3,394.8 1816.3,395.1 1818.3,395.4 1820.3,395.6 1822.3,395.9 1824.3,396.1 1826.3,396.4 1828.3,396.6 1830.3,396.8 1832.3,397.0 1834.3,397.3 1836.3,397.5 1838.3,397.7 1840.3,397.8 1842.3,398.0 1844.3,398.2 1846.3,398.4 1848.3,398.6 1850.3,398.7 1852.3,398.9 1854.3,399.0 1856.3,399.2 1858.3,399.3 1860.3,399.5 1862.3,399.6 1864.3,399.7 1866.3,399.9 1868.3,400.0 1870.3,400.1 1872.3,400.2 1874.3,400.4 1876.3,400.5 1878.3,400.6 1880.3,400.7 1882.3,400.8 1884.3,400.9 1886.3,401.0 1888.3,401.1 1890.3,401.2 1892.3,401.3 1894.3,401.4 1896.3,401.5 1898.3,401.6 1900.3,401.6 1902.3,401.7 1904.3,401.8 1906.3,401.9 1908.3,402.0 1910.3,402.1 1912.3,402.1 1914.3,402.2 1916.3,402.3 1918.3,402.4 1920.3,402.4 1922.3,402.5 1924.3,402.6 1926.3,402.6 1928.3,402.7 1930.3,402.8 1932.3,402.8 1934.3,402.9 1936.3,402.9 1938.3,403.0 1940.3,403.1 1942.3,403.1 1944.3,403.2 1946.3,403.2 1948.3,403.3 1950.3,403.3 1952.3,403.4 1954.3,403.5 1956.3,403.5 1958.3,403.6 1960.3,403.6 1962.3,403.7 1964.3,403.7 1966.3,403.8 1968.3,403.8 1970.3,403.8 1972.3,403.9 1974.3,403.9 1976.3,404.0 1978.3,404.0 1980.3,404.1 1982.3,404.1 1983.1,404.1" fill="none" stroke="#18a04a" stroke-width="3.3" stroke-linejoin="round" stroke-linecap="round"/>
<path d="M1378.3,424.7 1380.3,424.6 1382.3,424.5 1384.3,424.5 1386.3,424.4 1388.3,424.3 1390.3,424.2 1392.3,424.1 1394.3,424.0 1396.3,423.9 1398.3,423.9 1400.3,423.8 1402.3,423.7 1404.3,423.6 1406.3,423.5 1408.3,423.4 1410.3,423.2 1412.3,423.1 1414.3,423.0 1416.3,422.9 1418.3,422.8 1420.3,422.7 1422.3,422.5 1424.3,422.4 1426.3,422.3 1428.3,422.1 1430.3,422.0 1432.3,421.8 1434.3,421.7 1436.3,421.5 1438.3,421.4 1440.3,421.2 1442.3,421.0 1444.3,420.9 1446.3,420.7 1448.3,420.5 1450.3,420.3 1452.3,420.1 1454.3,419.9 1456.3,419.7 1458.3,419.5 1460.3,419.3 1462.3,419.0 1464.3,418.8 1466.3,418.6 1468.3,418.3 1470.3,418.0 1472.3,417.8 1474.3,417.5 1476.3,417.2 1478.3,416.9 1480.3,416.6 1482.3,416.2 1484.3,415.9 1486.3,415.5 1488.3,415.2 1490.3,414.8 1492.3,414.4 1494.3,413.9 1496.3,413.5 1498.3,413.0 1500.3,412.6 1502.3,412.1 1504.3,411.5 1506.3,410.9 1508.3,410.2 1510.3,409.6 1512.3,408.9 1514.3,408.1 1516.3,407.4 1518.3,406.6 1520.3,405.7 1522.3,404.8 1524.3,403.8 1526.3,402.8 1528.3,401.7 1530.3,400.6 1532.3,399.4 1534.3,398.1 1536.3,396.7 1538.3,395.2 1540.3,393.7 1542.3,392.0 1544.3,390.2 1546.3,388.3 1548.3,386.3 1550.3,384.2 1552.3,381.9 1554.3,379.4 1556.3,376.8 1558.3,374.1 1560.3,371.1 1562.3,368.0 1564.3,364.7 1566.3,361.2 1568.3,357.3 1570.3,353.2 1572.3,348.9 1574.3,344.4 1576.3,339.7 1578.3,334.8 1580.3,329.6 1582.3,324.2 1584.3,318.6 1586.3,312.8 1588.3,306.8 1590.3,300.6 1592.3,294.3 1594.3,287.8 1596.3,281.3 1598.3,274.7 1600.3,268.2 1602.3,261.7 1604.3,255.3 1606.3,249.2 1608.3,243.4 1610.3,238.0 1612.3,233.1 1614.3,228.8 1616.3,225.0 1618.3,222.0 1620.3,219.8 1622.3,218.4 1624.3,218.0 1626.3,218.5 1628.3,220.1 1630.3,222.6 1632.3,226.0 1634.3,230.1 1636.3,235.0 1638.3,240.4 1640.3,246.2 1642.3,252.3 1644.3,258.7 1646.3,265.2 1648.3,271.7 1650.3,278.2 1652.3,284.6 1654.3,290.9 1656.3,297.0 1658.3,302.9 1660.3,308.6 1662.3,313.9 1664.3,319.0 1666.3,323.8 1668.3,328.3 1670.3,332.6 1672.3,336.7 1674.3,340.5 1676.3,344.0 1678.3,347.3 1680.3,350.3 1682.3,353.2 1684.3,355.8 1686.3,358.2 1688.3,360.5 1690.3,362.6 1692.3,364.8 1694.3,366.8 1696.3,368.6 1698.3,370.3 1700.3,371.9 1702.3,373.4 1704.3,374.7 1706.3,375.9 1708.3,377.1 1710.3,378.1 1712.3,379.1 1714.3,380.0 1716.3,380.8 1718.3,381.5 1720.3,382.3 1722.3,383.2 1724.3,384.0 1726.3,384.7 1728.3,385.4 1730.3,386.1 1732.3,386.7 1734.3,387.3 1736.3,387.9 1738.3,388.4 1740.3,388.9 1742.3,389.4 1744.3,389.9 1746.3,390.3 1748.3,390.7 1750.3,391.1 1752.3,391.5 1754.3,391.9 1756.3,392.2 1758.3,392.6 1760.3,392.9 1762.3,393.2 1764.3,393.5 1766.3,393.8 1768.3,394.1 1770.3,394.4 1772.3,394.7 1774.3,394.9 1776.3,395.2 1778.3,395.4 1780.3,395.7 1782.3,395.9 1784.3,396.1 1786.3,396.4 1788.3,396.6 1790.3,396.8 1792.3,397.0 1794.3,397.2 1796.3,397.4 1798.3,397.5 1800.3,397.7 1802.3,397.9 1804.3,398.1 1806.3,398.2 1808.3,398.4 1810.3,398.5 1812.3,398.7 1814.3,398.8 1816.3,399.0 1818.3,399.1 1820.3,399.2 1822.3,399.4 1824.3,399.5 1826.3,399.6 1828.3,399.8 1830.3,399.9 1832.3,400.0 1834.3,400.1 1836.3,400.2 1838.3,400.3 1840.3,400.4 1842.3,400.5 1844.3,400.6 1846.3,400.7 1848.3,400.8 1850.3,400.9 1852.3,401.0 1854.3,401.1 1856.3,401.2 1858.3,401.3 1860.3,401.4 1862.3,401.5 1864.3,401.6 1866.3,401.6 1868.3,401.7 1870.3,401.8 1872.3,401.9 1874.3,402.0 1876.3,402.0 1878.3,402.1 1880.3,402.2 1882.3,402.3 1884.3,402.3 1886.3,402.4 1888.3,402.5 1890.3,402.5 1892.3,402.6 1894.3,402.7 1896.3,402.7 1898.3,402.8 1900.3,402.9 1902.3,402.9 1904.3,403.0 1906.3,403.0 1908.3,403.1 1910.3,403.2 1912.3,403.2 1914.3,403.3 1916.3,403.3 1918.3,403.4 1920.3,403.4 1922.3,403.5 1924.3,403.6 1926.3,403.6 1928.3,403.7 1930.3,403.7 1932.3,403.8 1934.3,403.8 1936.3,403.9 1938.3,403.9 1940.3,404.0 1942.3,404.0 1944.3,404.1 1946.3,404.1 1948.3,404.2 1950.3,404.2 1952.3,404.2 1954.3,404.3 1956.3,404.3 1958.3,404.4 1960.3,404.4 1962.3,404.5 1964.3,404.5 1966.3,404.6 1968.3,404.6 1970.3,404.6 1972.3,404.7 1974.3,404.7 1976.3,404.8 1978.3,404.8 1980.3,404.8 1982.3,404.9 1983.1,404.9" fill="none" stroke="#a75ae0" stroke-width="3.3" stroke-linejoin="round" stroke-linecap="round"/>
<path d="M1378.3,417.8C1381.1,418.5 1383.8,419.2 1386.8,419.9C1390.2,420.6 1393.4,421.7 1397.5,422.0C1403.0,422.4 1410.2,421.9 1416.7,420.8C1423.7,419.6 1431.8,414.9 1438.0,414.8C1442.8,414.7 1446.0,417.3 1450.9,417.8C1457.1,418.4 1465.6,418.1 1472.2,416.9C1478.3,415.8 1484.4,414.7 1489.3,411.4C1494.4,408.0 1497.3,398.1 1502.1,396.4C1506.0,395.0 1510.8,399.5 1514.9,398.6C1519.4,397.6 1523.6,393.4 1527.7,390.0C1532.2,386.3 1536.4,381.9 1540.5,377.2C1545.0,372.1 1549.8,365.0 1553.3,360.1C1555.9,356.4 1557.7,354.9 1560.0,350.4C1564.2,341.9 1568.1,322.6 1573.0,311.4C1577.0,302.4 1582.2,297.5 1586.0,288.0C1591.3,274.9 1594.7,255.4 1599.0,238.7C1603.4,221.6 1607.6,201.8 1612.0,186.8C1615.4,175.0 1619.2,164.5 1622.3,155.6C1624.7,148.9 1627.0,142.7 1628.8,138.0C1630.0,134.8 1631.0,133.0 1632.0,130.0C1633.3,126.4 1634.3,122.2 1635.7,118.0C1637.3,113.3 1639.1,107.8 1641.3,103.1C1643.4,98.5 1646.5,94.5 1648.7,90.1C1650.8,85.8 1652.2,80.6 1654.3,77.1C1656.0,74.4 1657.9,70.9 1659.8,70.6C1661.3,70.3 1663.0,71.8 1664.5,73.4C1666.9,76.0 1668.9,82.2 1671.0,86.4C1672.9,90.3 1674.7,92.9 1676.5,97.6C1679.1,104.6 1681.3,114.8 1683.9,125.0C1687.1,137.6 1690.5,154.7 1693.9,167.6C1696.8,178.5 1700.1,186.9 1702.7,197.7C1705.7,210.0 1707.6,225.2 1710.2,237.8C1712.6,249.3 1714.7,259.8 1717.7,270.4C1720.6,280.7 1724.3,290.6 1727.7,300.4C1731.0,309.8 1734.5,318.4 1737.7,328.0C1741.2,338.4 1744.8,349.9 1747.8,360.6C1750.6,370.8 1752.2,384.3 1755.3,390.7C1757.0,394.2 1758.7,396.0 1761.0,398.0C1763.4,400.1 1766.9,400.7 1769.5,403.0C1772.6,405.7 1774.5,412.6 1778.1,413.7C1781.7,414.7 1786.6,410.8 1790.9,409.4C1795.2,408.0 1799.8,404.0 1803.7,405.1C1808.4,406.4 1811.3,416.8 1816.5,420.0C1821.4,423.0 1827.9,423.2 1833.6,424.3C1839.3,425.4 1845.0,426.5 1850.7,426.5C1856.4,426.5 1861.8,424.4 1867.8,424.3C1874.5,424.2 1882.5,427.4 1889.1,426.5C1895.2,425.7 1900.8,420.5 1906.2,420.0C1910.7,419.6 1914.7,420.3 1919.0,422.2C1924.6,424.6 1931.2,434.5 1936.1,435.0C1939.3,435.3 1941.8,433.1 1944.7,430.8C1948.9,427.6 1952.7,418.2 1957.5,415.8C1961.4,413.9 1966.1,414.3 1970.3,415.0C1974.6,415.7 1978.8,418.3 1983.1,420.0" fill="none" stroke="#333333" stroke-width="3.3" stroke-linejoin="round" stroke-linecap="round"/>
<path d="M1378.3,424.2C1391.1,423.5 1403.6,423.4 1416.7,422.0C1430.6,420.6 1446.0,417.9 1459.4,415.6C1471.5,413.6 1483.2,412.7 1493.6,409.2C1503.0,406.0 1511.0,401.9 1519.2,396.4C1528.1,390.4 1537.6,381.4 1544.8,374.0C1550.8,367.8 1555.3,363.0 1560.0,355.6C1565.8,346.3 1570.9,334.8 1575.6,321.8C1581.6,305.5 1586.3,283.3 1591.2,264.7C1595.8,247.0 1600.1,228.8 1604.2,212.7C1607.8,198.8 1611.0,184.7 1614.5,173.8C1617.1,165.7 1619.4,158.1 1622.3,153.0C1624.2,149.6 1626.1,148.2 1628.3,145.3C1631.1,141.6 1634.8,137.1 1637.6,132.8C1640.3,128.6 1642.7,124.6 1645.0,119.8C1647.7,114.3 1649.9,107.5 1652.4,101.3C1654.9,95.1 1657.5,88.6 1659.8,82.7C1661.8,77.5 1662.8,70.6 1665.4,67.8C1667.0,66.1 1669.4,64.5 1671.0,65.1C1673.4,66.0 1674.8,72.4 1676.5,77.1C1678.7,83.3 1680.4,91.3 1682.1,99.4C1684.1,108.8 1685.9,119.3 1687.6,130.0C1689.5,141.9 1690.7,155.1 1692.6,167.6C1694.5,180.1 1696.8,192.7 1698.9,205.2C1701.0,217.7 1702.8,230.7 1705.2,242.8C1707.4,254.1 1709.9,264.4 1712.7,275.4C1715.7,286.9 1718.8,299.4 1722.7,310.5C1726.4,321.0 1730.5,332.0 1735.2,340.5C1739.0,347.4 1743.3,353.3 1747.8,358.1C1751.6,362.2 1754.7,364.9 1760.0,368.1C1767.7,372.8 1779.6,377.9 1790.9,381.6C1803.8,385.9 1817.8,389.0 1833.6,391.5C1852.7,394.6 1874.7,395.8 1897.6,397.4C1924.0,399.3 1954.6,400.3 1983.1,401.7" fill="none" stroke="#f52222" stroke-width="3.3" stroke-linejoin="round" stroke-linecap="round"/>
<path d="M1378.3,927.0C1419.6,926.7 1464.7,927.4 1502.1,926.1C1533.2,925.0 1565.8,922.7 1587.5,920.6C1600.9,919.3 1608.4,917.6 1620.0,916.5C1633.2,915.2 1646.0,914.3 1662.7,913.5C1686.3,912.4 1712.7,911.7 1748.2,911.3C1806.7,910.7 1903.1,911.9 1980.5,912.2" fill="none" stroke="#0c50dc" stroke-width="3.3" stroke-linejoin="round" stroke-linecap="round"/>
<path d="M1378.3,926.1 1380.3,926.0 1382.3,926.0 1384.3,925.9 1386.3,925.8 1388.3,925.8 1390.3,925.7 1392.3,925.7 1394.3,925.6 1396.3,925.6 1398.3,925.5 1400.3,925.5 1402.3,925.4 1404.3,925.3 1406.3,925.3 1408.3,925.2 1410.3,925.1 1412.3,925.1 1414.3,925.0 1416.3,925.0 1418.3,924.9 1420.3,924.8 1422.3,924.8 1424.3,924.7 1426.3,924.6 1428.3,924.5 1430.3,924.5 1432.3,924.4 1434.3,924.3 1436.3,924.3 1438.3,924.2 1440.3,924.1 1442.3,924.0 1444.3,923.9 1446.3,923.9 1448.3,923.8 1450.3,923.7 1452.3,923.6 1454.3,923.5 1456.3,923.4 1458.3,923.3 1460.3,923.2 1462.3,923.1 1464.3,923.0 1466.3,923.0 1468.3,922.8 1470.3,922.7 1472.3,922.6 1474.3,922.5 1476.3,922.4 1478.3,922.3 1480.3,922.2 1482.3,922.1 1484.3,922.0 1486.3,921.8 1488.3,921.7 1490.3,921.6 1492.3,921.4 1494.3,921.3 1496.3,921.2 1498.3,921.0 1500.3,920.9 1502.3,920.7 1504.3,920.4 1506.3,920.2 1508.3,919.9 1510.3,919.6 1512.3,919.3 1514.3,919.0 1516.3,918.7 1518.3,918.4 1520.3,918.1 1522.3,917.7 1524.3,917.4 1526.3,917.1 1528.3,916.7 1530.3,916.4 1532.3,916.0 1534.3,915.6 1536.3,915.3 1538.3,914.9 1540.3,914.5 1542.3,914.1 1544.3,913.6 1546.3,913.2 1548.3,912.7 1550.3,912.3 1552.3,911.8 1554.3,911.3 1556.3,910.8 1558.3,910.2 1560.3,909.7 1562.3,909.1 1564.3,908.5 1566.3,907.9 1568.3,907.2 1570.3,906.5 1572.3,905.8 1574.3,905.1 1576.3,904.3 1578.3,903.5 1580.3,902.6 1582.3,901.7 1584.3,900.7 1586.3,899.7 1588.3,898.6 1590.3,897.3 1592.3,895.9 1594.3,894.5 1596.3,893.0 1598.3,891.4 1600.3,889.7 1602.3,887.8 1604.3,885.9 1606.3,883.8 1608.3,881.5 1610.3,879.1 1612.3,876.6 1614.3,873.8 1616.3,870.9 1618.3,867.7 1620.3,864.3 1622.3,860.8 1624.3,857.0 1626.3,853.0 1628.3,848.7 1630.3,844.0 1632.3,839.1 1634.3,833.9 1636.3,828.3 1638.3,822.5 1640.3,816.4 1642.3,810.0 1644.3,803.4 1646.3,796.6 1648.3,789.7 1650.3,782.8 1652.3,776.0 1654.3,769.5 1656.3,763.3 1658.3,757.8 1660.3,752.9 1662.3,749.0 1664.3,746.1 1666.3,744.4 1668.3,744.0 1670.3,744.7 1672.3,746.6 1674.3,749.6 1676.3,753.5 1678.3,758.2 1680.3,763.6 1682.3,769.5 1684.3,775.7 1686.3,782.1 1688.3,788.6 1690.3,795.1 1692.3,801.5 1694.3,807.8 1696.3,813.8 1698.3,819.5 1700.3,825.0 1702.3,830.2 1704.3,835.2 1706.3,839.8 1708.3,844.1 1710.3,848.2 1712.3,851.9 1714.3,855.5 1716.3,858.7 1718.3,861.8 1720.3,864.6 1722.3,867.2 1724.3,869.6 1726.3,871.8 1728.3,873.9 1730.3,875.8 1732.3,877.6 1734.3,879.2 1736.3,880.8 1738.3,882.2 1740.3,883.5 1742.3,884.7 1744.3,885.8 1746.3,886.8 1748.3,887.8 1750.3,888.7 1752.3,889.6 1754.3,890.5 1756.3,891.2 1758.3,892.0 1760.3,892.7 1762.3,893.3 1764.3,893.9 1766.3,894.5 1768.3,895.1 1770.3,895.6 1772.3,896.1 1774.3,896.5 1776.3,897.0 1778.3,897.4 1780.3,897.8 1782.3,898.2 1784.3,898.5 1786.3,898.9 1788.3,899.2 1790.3,899.5 1792.3,899.8 1794.3,900.1 1796.3,900.4 1798.3,900.7 1800.3,900.9 1802.3,901.2 1804.3,901.4 1806.3,901.6 1808.3,901.8 1810.3,902.0 1812.3,902.2 1814.3,902.4 1816.3,902.6 1818.3,902.8 1820.3,902.9 1822.3,903.1 1824.3,903.2 1826.3,903.4 1828.3,903.5 1830.3,903.7 1832.3,903.8 1834.3,903.9 1836.3,904.1 1838.3,904.2 1840.3,904.3 1842.3,904.4 1844.3,904.5 1846.3,904.6 1848.3,904.7 1850.3,904.8 1852.3,904.9 1854.3,905.0 1856.3,905.1 1858.3,905.2 1860.3,905.3 1862.3,905.4 1864.3,905.4 1866.3,905.5 1868.3,905.6 1870.3,905.7 1872.3,905.7 1874.3,905.8 1876.3,905.9 1878.3,905.9 1880.3,906.0 1882.3,906.1 1884.3,906.1 1886.3,906.2 1888.3,906.2 1890.3,906.3 1892.3,906.3 1894.3,906.4 1896.3,906.4 1898.3,906.5 1900.3,906.5 1902.3,906.6 1904.3,906.6 1906.3,906.7 1908.3,906.7 1910.3,906.7 1912.3,906.8 1914.3,906.8 1916.3,906.8 1918.3,906.9 1920.3,906.9 1922.3,907.0 1924.3,907.0 1926.3,907.0 1928.3,907.1 1930.3,907.1 1932.3,907.1 1934.3,907.1 1936.3,907.2 1938.3,907.2 1940.3,907.2 1942.3,907.3 1944.3,907.3 1946.3,907.3 1948.3,907.3 1950.3,907.4 1952.3,907.4 1954.3,907.4 1956.3,907.4 1958.3,907.4 1960.3,907.5 1962.3,907.5 1964.3,907.5 1966.3,907.5 1968.3,907.5 1970.3,907.6 1972.3,907.6 1974.3,907.6 1976.3,907.6 1978.3,907.6 1980.3,907.6 1980.5,907.6" fill="none" stroke="#18a04a" stroke-width="3.3" stroke-linejoin="round" stroke-linecap="round"/>
<path d="M1378.3,923.0C1392.2,922.5 1406.1,922.2 1420.0,921.4C1433.9,920.5 1449.3,919.7 1461.8,917.9C1472.1,916.4 1480.4,914.8 1489.6,912.3C1499.0,909.7 1510.1,905.8 1517.5,902.6C1522.6,900.4 1526.1,898.5 1530.0,895.9C1533.9,893.3 1537.6,890.7 1541.1,887.0C1545.1,882.7 1549.0,877.1 1552.3,871.4C1555.8,865.3 1558.6,857.9 1561.2,851.3C1563.7,845.0 1565.8,838.7 1567.9,832.4C1569.9,826.1 1571.7,819.9 1573.5,813.4C1575.4,806.5 1576.9,800.4 1578.7,792.0C1581.3,780.2 1584.3,763.1 1586.9,749.0C1589.5,735.4 1592.1,720.2 1594.3,708.8C1595.9,700.3 1597.3,694.1 1598.8,686.5C1600.3,678.5 1601.1,669.1 1603.3,662.0C1605.1,656.1 1607.3,647.5 1610.0,646.4C1611.5,645.8 1613.7,647.1 1615.1,648.6C1617.4,651.1 1618.1,657.4 1619.6,662.7C1621.6,669.6 1623.7,678.1 1625.6,686.5C1627.7,695.8 1629.5,706.3 1631.5,716.2C1633.5,726.1 1635.5,735.9 1637.5,746.0C1639.5,756.3 1641.2,767.3 1643.4,777.2C1645.4,786.2 1647.4,794.7 1650.0,803.0C1652.5,811.0 1655.4,818.8 1658.4,826.0C1661.2,832.7 1663.8,838.2 1667.2,845.0C1671.3,853.3 1675.7,864.6 1681.6,872.0C1686.9,878.6 1692.6,883.7 1700.0,887.8C1708.6,892.5 1718.9,894.8 1731.1,897.3C1747.7,900.7 1765.3,902.0 1790.9,903.7C1836.3,906.6 1917.3,906.6 1980.5,908.0" fill="none" stroke="#a75ae0" stroke-width="3.3" stroke-linejoin="round" stroke-linecap="round"/>
<path d="M1378.3,920.6C1392.2,918.5 1407.6,917.2 1420.0,914.4C1430.3,912.1 1439.4,909.4 1447.9,906.0C1455.5,903.0 1462.6,899.5 1468.7,895.6C1474.0,892.2 1478.3,889.1 1482.7,884.5C1487.7,879.2 1492.5,871.5 1496.6,865.0C1500.4,859.0 1503.4,853.2 1506.4,846.9C1509.5,840.3 1512.1,833.0 1514.7,826.0C1517.2,819.1 1519.5,812.4 1521.7,805.1C1524.1,797.1 1526.1,788.8 1528.6,780.0C1531.4,770.3 1534.4,760.7 1537.6,749.6C1541.5,736.2 1545.2,716.4 1550.0,705.0C1553.2,697.3 1557.2,686.4 1560.6,686.8C1565.8,687.4 1569.6,718.3 1575.0,735.0C1581.0,753.5 1588.0,773.6 1595.2,792.8C1602.4,812.1 1607.9,834.0 1618.2,850.3C1627.6,865.1 1638.5,879.6 1652.8,887.8C1667.5,896.2 1686.9,896.8 1705.4,899.4C1725.6,902.3 1741.9,902.4 1769.5,903.7C1819.5,906.0 1910.2,907.4 1980.5,909.2" fill="none" stroke="#d09408" stroke-width="3.3" stroke-linejoin="round" stroke-linecap="round"/>
<path d="M1378.3,922.7C1392.2,920.6 1407.7,919.8 1420.0,916.5C1430.4,913.7 1440.1,910.7 1447.9,905.3C1455.2,900.2 1460.2,892.5 1466.0,885.8C1471.8,879.1 1477.7,872.5 1482.7,865.0C1487.9,857.2 1492.2,849.1 1496.6,839.9C1501.6,829.4 1506.9,815.8 1510.5,805.1C1513.5,796.1 1514.8,790.1 1517.5,780.0C1521.6,764.7 1527.5,741.5 1532.0,722.0C1536.6,702.3 1540.7,678.3 1544.8,662.3C1547.6,651.4 1550.2,643.2 1553.0,635.0C1555.3,628.1 1557.7,622.6 1560.0,616.0C1562.4,608.9 1564.3,601.1 1567.0,593.6C1569.7,585.9 1572.6,577.3 1576.3,570.4C1579.7,564.3 1583.6,558.1 1587.9,554.1C1591.5,550.8 1595.6,547.5 1599.5,547.2C1603.3,546.9 1607.7,549.3 1611.1,551.8C1614.8,554.5 1617.5,559.1 1620.4,563.4C1623.7,568.3 1626.7,573.9 1629.7,579.7C1633.0,586.2 1635.9,593.6 1639.0,600.6C1642.1,607.6 1645.1,614.5 1648.2,621.5C1651.3,628.5 1654.5,635.2 1657.5,642.4C1660.7,649.9 1664.1,657.8 1666.8,665.6C1669.5,673.3 1671.5,681.1 1673.8,688.8C1676.1,696.5 1678.4,704.1 1680.8,712.0C1683.4,720.3 1686.0,729.8 1688.9,737.6C1691.4,744.4 1694.0,749.1 1696.9,756.3C1700.8,766.0 1705.4,779.1 1709.7,790.5C1714.0,801.9 1717.6,813.4 1722.5,824.6C1727.5,836.1 1733.6,848.4 1739.6,858.8C1745.0,868.2 1749.9,877.6 1756.7,884.5C1762.9,890.9 1770.9,894.7 1778.1,899.4C1785.1,904.0 1792.1,908.6 1799.4,912.2C1806.4,915.7 1813.5,919.0 1820.8,920.8C1827.8,922.5 1834.7,922.0 1842.1,922.9C1850.3,923.8 1860.8,926.0 1867.8,926.3C1872.6,926.5 1875.4,926.1 1880.0,925.6C1886.0,925.0 1894.4,923.2 1900.9,922.4C1906.5,921.7 1912.3,921.8 1916.6,920.9C1919.7,920.3 1921.8,918.8 1924.4,918.5C1927.0,918.2 1929.5,919.4 1932.3,919.3C1935.6,919.2 1938.9,917.9 1942.8,917.7C1947.5,917.5 1953.7,918.3 1958.4,918.8C1962.3,919.2 1965.3,920.2 1968.9,920.3C1972.7,920.4 1976.6,919.4 1980.5,919.0" fill="none" stroke="#333333" stroke-width="3.3" stroke-linejoin="round" stroke-linecap="round"/>
<path d="M1378.3,913.3C1392.2,910.9 1407.6,908.9 1420.0,906.0C1430.3,903.6 1439.8,901.4 1447.9,897.7C1454.9,894.5 1460.3,890.3 1466.0,885.8C1471.9,881.2 1477.8,876.6 1482.7,870.5C1488.1,863.8 1492.2,855.5 1496.6,846.9C1501.6,837.2 1506.6,825.9 1510.5,814.8C1514.5,803.6 1516.8,793.5 1520.3,780.0C1525.1,761.4 1531.5,735.9 1536.3,713.5C1541.1,690.9 1544.5,664.5 1549.1,645.2C1552.6,630.7 1555.9,615.6 1560.0,607.5C1562.2,603.1 1564.2,601.1 1567.0,598.2C1570.2,594.9 1575.5,592.6 1578.6,589.0C1581.6,585.6 1583.2,581.8 1585.5,577.3C1588.5,571.4 1591.9,563.4 1594.8,556.4C1597.7,549.5 1599.7,539.9 1603.0,535.5C1605.0,532.8 1607.5,530.2 1609.5,530.4C1611.7,530.6 1613.9,534.6 1615.7,537.9C1618.2,542.5 1619.6,550.0 1621.5,556.4C1623.5,563.1 1625.3,570.0 1627.3,577.3C1629.5,585.4 1632.1,594.0 1634.3,602.9C1636.7,612.5 1638.3,625.6 1641.3,633.1C1643.3,638.1 1645.4,641.5 1648.2,644.7C1650.8,647.6 1654.5,649.3 1657.5,651.7C1660.4,654.0 1663.5,655.6 1665.7,658.6C1668.3,662.2 1669.8,667.7 1671.5,672.6C1673.3,677.8 1674.4,682.8 1676.1,688.8C1678.2,696.4 1680.8,705.7 1683.1,714.4C1685.5,723.5 1687.9,732.6 1690.1,742.2C1692.5,752.3 1694.0,762.2 1696.9,773.4C1700.3,786.6 1704.5,802.9 1709.7,816.1C1714.6,828.4 1719.9,840.7 1726.8,850.3C1733.0,858.8 1739.9,866.0 1748.2,871.6C1756.9,877.5 1767.1,880.8 1778.1,884.5C1790.9,888.8 1805.5,892.3 1820.8,895.1C1838.0,898.2 1854.9,899.7 1876.3,901.5C1905.6,903.9 1945.8,905.0 1980.5,906.7" fill="none" stroke="#f52222" stroke-width="3.3" stroke-linejoin="round" stroke-linecap="round"/>
<rect x="1373.7" y="7.7" width="610.0" height="491.1" fill="none" stroke="#000" stroke-width="2.3"/>
<rect x="1374.4" y="498.8" width="606.8" height="488.3" fill="none" stroke="#000" stroke-width="2.3"/>
<text transform="translate(1350.3,382.6) rotate(-90) scale(1.0,1)" font-family="'Liberation Serif','Times New Roman',serif" font-size="35.8" font-weight="bold">Intensity (a.u.)</text>
<text transform="translate(1339.9,859.2) rotate(-90) scale(1.0,1)" font-family="'Liberation Serif','Times New Roman',serif" font-size="35.4" font-weight="bold">Intensity (a.u.)</text>
<line x1="1374.3" y1="987.1" x2="1374.3" y2="996.2" stroke="#000" stroke-width="2.2"/>
<line x1="1434.97" y1="987.1" x2="1434.97" y2="991.5" stroke="#000" stroke-width="2.2"/>
<line x1="1495.6399999999999" y1="987.1" x2="1495.6399999999999" y2="996.2" stroke="#000" stroke-width="2.2"/>
<line x1="1556.31" y1="987.1" x2="1556.31" y2="991.5" stroke="#000" stroke-width="2.2"/>
<line x1="1616.98" y1="987.1" x2="1616.98" y2="996.2" stroke="#000" stroke-width="2.2"/>
<line x1="1677.65" y1="987.1" x2="1677.65" y2="991.5" stroke="#000" stroke-width="2.2"/>
<line x1="1738.32" y1="987.1" x2="1738.32" y2="996.2" stroke="#000" stroke-width="2.2"/>
<line x1="1798.99" y1="987.1" x2="1798.99" y2="991.5" stroke="#000" stroke-width="2.2"/>
<line x1="1859.6599999999999" y1="987.1" x2="1859.6599999999999" y2="996.2" stroke="#000" stroke-width="2.2"/>
<line x1="1920.33" y1="987.1" x2="1920.33" y2="991.5" stroke="#000" stroke-width="2.2"/>
<line x1="1981.0" y1="987.1" x2="1981.0" y2="996.2" stroke="#000" stroke-width="2.2"/>
<text x="1374.3" y="1027" font-family="'Liberation Serif','Times New Roman',serif" font-size="29.5" font-weight="bold" text-anchor="middle" >528</text>
<text x="1495.6" y="1027" font-family="'Liberation Serif','Times New Roman',serif" font-size="29.5" font-weight="bold" text-anchor="middle" >530</text>
<text x="1617.0" y="1027" font-family="'Liberation Serif','Times New Roman',serif" font-size="29.5" font-weight="bold" text-anchor="middle" >532</text>
<text x="1738.3" y="1027" font-family="'Liberation Serif','Times New Roman',serif" font-size="29.5" font-weight="bold" text-anchor="middle" >534</text>
<text x="1859.7" y="1027" font-family="'Liberation Serif','Times New Roman',serif" font-size="29.5" font-weight="bold" text-anchor="middle" >536</text>
<text x="1981.0" y="1027" font-family="'Liberation Serif','Times New Roman',serif" font-size="29.5" font-weight="bold" text-anchor="middle" >538</text>
<text x="1686.6" y="1064.8" font-family="'Liberation Serif','Times New Roman',serif" font-size="35.3" font-weight="bold" text-anchor="middle" >B.E. (eV)</text>
<text x="1636.4" y="55.5" font-family="'Liberation Serif','Times New Roman',serif" font-size="29.2" font-weight="bold" text-anchor="start" >O 1s</text>
<text x="1721" y="157.4" font-family="'Liberation Serif','Times New Roman',serif" font-size="30.8" font-weight="bold" text-anchor="start" >OH</text>
<text x="1743.5" y="219.3" font-family="'Liberation Serif','Times New Roman',serif" font-size="30" font-weight="bold" text-anchor="start" >H</text>
<text x="1766" y="226" font-family="'Liberation Serif','Times New Roman',serif" font-size="20" font-weight="bold" text-anchor="start" >2</text>
<text x="1776.5" y="219.3" font-family="'Liberation Serif','Times New Roman',serif" font-size="30" font-weight="bold" text-anchor="start" >O</text>
<line x1="1635.3" y1="225.7" x2="1706.2" y2="163.0" stroke="#000" stroke-width="2.8"/>
<polygon points="1715.2,155.1 1708.2,168.3 1701.3,160.5" fill="#000"/>
<line x1="1700.2" y1="249" x2="1730.8" y2="225.1" stroke="#000" stroke-width="2.8"/>
<polygon points="1740.3,217.7 1732.5,230.4 1726.1,222.2" fill="#000"/>
<text x="1575.9" y="523.5" font-family="'Liberation Serif','Times New Roman',serif" font-size="29.2" font-weight="bold" text-anchor="start" >O 1s</text>
<text x="1423.6" y="700.7" font-family="'Liberation Serif','Times New Roman',serif" font-size="30.3" font-weight="bold" text-anchor="start" >Zn-O-U</text>
<text x="1707.2" y="649.5" font-family="'Liberation Serif','Times New Roman',serif" font-size="30" font-weight="bold" text-anchor="start" >OH</text>
<text x="1747.8" y="732.8" font-family="'Liberation Serif','Times New Roman',serif" font-size="30" font-weight="bold" text-anchor="start" >H</text>
<text x="1770.3" y="739.5" font-family="'Liberation Serif','Times New Roman',serif" font-size="20" font-weight="bold" text-anchor="start" >2</text>
<text x="1780.8" y="732.8" font-family="'Liberation Serif','Times New Roman',serif" font-size="30" font-weight="bold" text-anchor="start" >O</text>
<line x1="1529.8" y1="769" x2="1494.5" y2="723.0" stroke="#000" stroke-width="2.8"/>
<polygon points="1487.2,713.5 1499.8,721.4 1491.6,727.8" fill="#000"/>
<line x1="1633" y1="726.7" x2="1697.2" y2="658.3" stroke="#000" stroke-width="2.8"/>
<polygon points="1705.4,649.5 1699.6,663.3 1692.0,656.2" fill="#000"/>
<line x1="1684.9" y1="784.1" x2="1738.6" y2="732.6" stroke="#000" stroke-width="2.8"/>
<polygon points="1747.3,724.3 1740.8,737.7 1733.6,730.2" fill="#000"/>
</svg>
</body></html>
